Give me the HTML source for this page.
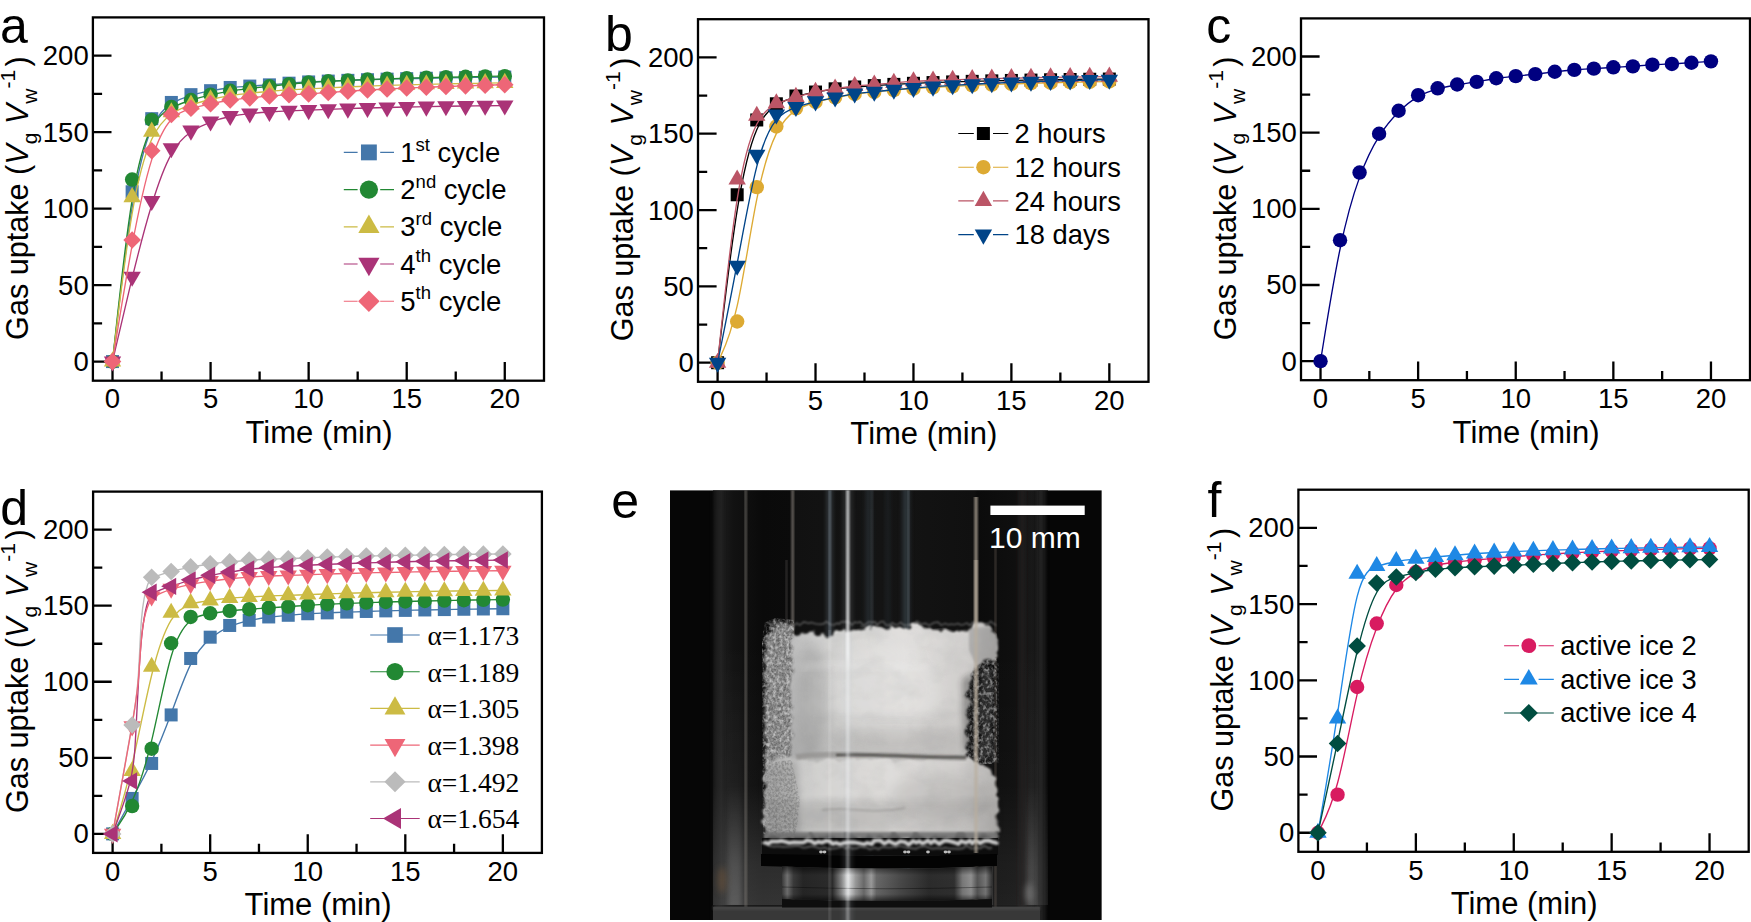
<!DOCTYPE html>
<html lang="en"><head><meta charset="utf-8"><title>Gas uptake kinetics</title>
<style>html,body{margin:0;padding:0;background:#fff}body{width:1751px;height:922px;overflow:hidden}svg{display:block}text{font-family:"Liberation Sans", Arial, Helvetica, sans-serif;fill:#000}</style></head><body>
<svg width="1751" height="922" viewBox="0 0 1751 922">
<rect width="1751" height="922" fill="#fff"/>
<text x="0" y="42.7" font-size="50">a</text>
<path d="M92.9,361.58h18.6M92.9,323.34h9.2M92.9,285.09h18.6M92.9,246.85h9.2M92.9,208.61h18.6M92.9,170.37h9.2M92.9,132.13h18.6M92.9,93.88h9.2M92.9,55.64h18.6M112.51,380.7v-18.6M161.55,380.7v-9.2M210.58,380.7v-18.6M259.61,380.7v-9.2M308.64,380.7v-18.6M357.68,380.7v-9.2M406.71,380.7v-18.6M455.74,380.7v-9.2M504.77,380.7v-18.6" stroke="#000" stroke-width="2.3" fill="none"/>
<rect x="92.9" y="17.4" width="451.1" height="363.3" fill="none" stroke="#000" stroke-width="2.3"/>
<text x="88.7" y="371.08" font-size="27.5" text-anchor="end">0</text>
<text x="88.7" y="294.59" font-size="27.5" text-anchor="end">50</text>
<text x="88.7" y="218.11" font-size="27.5" text-anchor="end">100</text>
<text x="88.7" y="141.63" font-size="27.5" text-anchor="end">150</text>
<text x="88.7" y="65.14" font-size="27.5" text-anchor="end">200</text>
<text x="112.51" y="408.4" font-size="27.5" text-anchor="middle">0</text>
<text x="210.58" y="408.4" font-size="27.5" text-anchor="middle">5</text>
<text x="308.64" y="408.4" font-size="27.5" text-anchor="middle">10</text>
<text x="406.71" y="408.4" font-size="27.5" text-anchor="middle">15</text>
<text x="504.77" y="408.4" font-size="27.5" text-anchor="middle">20</text>
<text x="319.05" y="443" font-size="31" text-anchor="middle">Time (min)</text>
<text transform="translate(27.7,198.05) rotate(-90)" font-size="30.6" text-anchor="middle">Gas uptake (<tspan font-style="italic">V</tspan><tspan font-size="21" dy="9">g</tspan><tspan dy="-9"> </tspan><tspan font-style="italic">V</tspan><tspan font-size="21" dy="9">w</tspan><tspan font-size="21" dy="-21.5">-1</tspan><tspan dy="12.5" dx="3.5">)</tspan></text>
<path d="M112.51,361.58C112.51,361.58 112.51,361.58 115.78,333.28C119.05,304.98 125.59,248.38 132.13,207.9C138.66,167.41 145.2,143.04 151.74,128.15C158.28,113.26 164.81,107.86 171.35,103.85C177.89,99.85 184.43,97.25 190.97,95.29C197.5,93.32 204.04,92 210.58,90.8C217.12,89.6 223.65,88.53 230.19,87.77C236.73,87 243.27,86.54 249.8,86.11C256.34,85.67 262.88,85.27 269.42,84.78C275.96,84.3 282.49,83.74 289.03,83.25C295.57,82.77 302.11,82.36 308.64,82.01C315.18,81.67 321.72,81.38 328.26,81.11C334.79,80.85 341.33,80.6 347.87,80.37C354.41,80.14 360.94,79.92 367.48,79.72C374.02,79.52 380.56,79.34 387.1,79.16C393.63,78.99 400.17,78.83 406.71,78.68C413.25,78.53 419.78,78.39 426.32,78.26C432.86,78.13 439.4,78 445.93,77.89C452.47,77.78 459.01,77.67 465.55,77.57C472.09,77.48 478.62,77.39 485.16,77.3C491.7,77.22 498.24,77.14 501.51,77.1C504.77,77.06 504.77,77.06 504.77,77.06" stroke="#4477AA" stroke-width="1.35" fill="none"/>
<rect x="106.01" y="355.08" width="13" height="13" fill="#4477AA"/><rect x="125.63" y="185.28" width="13" height="13" fill="#4477AA"/><rect x="145.24" y="112.17" width="13" height="13" fill="#4477AA"/><rect x="164.85" y="95.95" width="13" height="13" fill="#4477AA"/><rect x="184.47" y="88.15" width="13" height="13" fill="#4477AA"/><rect x="204.08" y="84.17" width="13" height="13" fill="#4477AA"/><rect x="223.69" y="80.96" width="13" height="13" fill="#4477AA"/><rect x="243.3" y="79.58" width="13" height="13" fill="#4477AA"/><rect x="262.92" y="78.36" width="13" height="13" fill="#4477AA"/><rect x="282.53" y="76.68" width="13" height="13" fill="#4477AA"/><rect x="302.14" y="75.45" width="13" height="13" fill="#4477AA"/><rect x="321.76" y="74.6" width="13" height="13" fill="#4477AA"/><rect x="341.37" y="73.85" width="13" height="13" fill="#4477AA"/><rect x="360.98" y="73.21" width="13" height="13" fill="#4477AA"/><rect x="380.6" y="72.65" width="13" height="13" fill="#4477AA"/><rect x="400.21" y="72.17" width="13" height="13" fill="#4477AA"/><rect x="419.82" y="71.75" width="13" height="13" fill="#4477AA"/><rect x="439.43" y="71.38" width="13" height="13" fill="#4477AA"/><rect x="459.05" y="71.07" width="13" height="13" fill="#4477AA"/><rect x="478.66" y="70.79" width="13" height="13" fill="#4477AA"/><rect x="498.27" y="70.56" width="13" height="13" fill="#4477AA"/>
<path d="M112.51,361.58C112.51,361.58 112.51,361.58 115.78,331.24C119.05,300.9 125.59,240.22 132.13,199.94C138.66,159.66 145.2,139.77 151.74,127.66C158.28,115.55 164.81,111.22 171.35,107.91C177.89,104.59 184.43,102.3 190.97,100.26C197.5,98.22 204.04,96.43 210.58,94.9C217.12,93.37 223.65,92.1 230.19,91.08C236.73,90.06 243.27,89.3 249.8,88.53C256.34,87.77 262.88,87 269.42,86.26C275.96,85.52 282.49,84.81 289.03,84.17C295.57,83.53 302.11,82.97 308.64,82.51C315.18,82.05 321.72,81.68 328.26,81.34C334.79,81 341.33,80.68 347.87,80.38C354.41,80.09 360.94,79.81 367.48,79.55C374.02,79.3 380.56,79.06 387.1,78.84C393.63,78.61 400.17,78.41 406.71,78.21C413.25,78.02 419.78,77.84 426.32,77.68C432.86,77.51 439.4,77.35 445.93,77.21C452.47,77.06 459.01,76.93 465.55,76.8C472.09,76.68 478.62,76.56 485.16,76.45C491.7,76.34 498.24,76.24 501.51,76.19C504.77,76.14 504.77,76.14 504.77,76.14" stroke="#228833" stroke-width="1.35" fill="none"/>
<circle cx="112.51" cy="361.58" r="7.2" fill="#228833"/><circle cx="132.13" cy="179.55" r="7.2" fill="#228833"/><circle cx="151.74" cy="119.89" r="7.2" fill="#228833"/><circle cx="171.35" cy="106.89" r="7.2" fill="#228833"/><circle cx="190.97" cy="100" r="7.2" fill="#228833"/><circle cx="210.58" cy="94.65" r="7.2" fill="#228833"/><circle cx="230.19" cy="90.82" r="7.2" fill="#228833"/><circle cx="249.8" cy="88.53" r="7.2" fill="#228833"/><circle cx="269.42" cy="86.24" r="7.2" fill="#228833"/><circle cx="289.03" cy="84.09" r="7.2" fill="#228833"/><circle cx="308.64" cy="82.41" r="7.2" fill="#228833"/><circle cx="328.26" cy="81.31" r="7.2" fill="#228833"/><circle cx="347.87" cy="80.36" r="7.2" fill="#228833"/><circle cx="367.48" cy="79.54" r="7.2" fill="#228833"/><circle cx="387.1" cy="78.82" r="7.2" fill="#228833"/><circle cx="406.71" cy="78.2" r="7.2" fill="#228833"/><circle cx="426.32" cy="77.66" r="7.2" fill="#228833"/><circle cx="445.93" cy="77.2" r="7.2" fill="#228833"/><circle cx="465.55" cy="76.79" r="7.2" fill="#228833"/><circle cx="485.16" cy="76.44" r="7.2" fill="#228833"/><circle cx="504.77" cy="76.14" r="7.2" fill="#228833"/>
<path d="M112.51,361.58C112.51,361.58 112.51,361.58 115.78,334.17C119.05,306.77 125.59,251.95 132.13,213.63C138.66,175.31 145.2,153.49 151.74,139.34C158.28,125.19 164.81,118.72 171.35,114.2C177.89,109.69 184.43,107.14 190.97,104.97C197.5,102.81 204.04,101.02 210.58,99.49C217.12,97.96 223.65,96.69 230.19,95.67C236.73,94.65 243.27,93.88 249.8,93.17C256.34,92.46 262.88,91.79 269.42,91.26C275.96,90.72 282.49,90.31 289.03,89.93C295.57,89.55 302.11,89.19 308.64,88.84C315.18,88.49 321.72,88.14 328.26,87.81C334.79,87.49 341.33,87.19 347.87,86.91C354.41,86.62 360.94,86.36 367.48,86.12C374.02,85.87 380.56,85.65 387.1,85.44C393.63,85.22 400.17,85.03 406.71,84.84C413.25,84.66 419.78,84.49 426.32,84.33C432.86,84.17 439.4,84.02 445.93,83.89C452.47,83.75 459.01,83.62 465.55,83.5C472.09,83.38 478.62,83.27 485.16,83.17C491.7,83.06 498.24,82.97 501.51,82.92C504.77,82.87 504.77,82.87 504.77,82.87" stroke="#CCBB44" stroke-width="1.35" fill="none"/>
<polygon points="112.51,351.53 103.81,366.6 121.21,366.6" fill="#CCBB44"/><polygon points="132.13,187.09 123.43,202.16 140.83,202.16" fill="#CCBB44"/><polygon points="151.74,121.62 143.04,136.69 160.44,136.69" fill="#CCBB44"/><polygon points="171.35,102.19 162.65,117.26 180.05,117.26" fill="#CCBB44"/><polygon points="190.97,94.55 182.27,109.61 199.67,109.61" fill="#CCBB44"/><polygon points="210.58,89.19 201.88,104.26 219.28,104.26" fill="#CCBB44"/><polygon points="230.19,85.37 221.49,100.44 238.89,100.44" fill="#CCBB44"/><polygon points="249.8,83.07 241.1,98.14 258.5,98.14" fill="#CCBB44"/><polygon points="269.42,81.09 260.72,96.15 278.12,96.15" fill="#CCBB44"/><polygon points="289.03,79.86 280.33,94.93 297.73,94.93" fill="#CCBB44"/><polygon points="308.64,78.79 299.94,93.86 317.34,93.86" fill="#CCBB44"/><polygon points="328.26,77.75 319.56,92.81 336.96,92.81" fill="#CCBB44"/><polygon points="347.87,76.84 339.17,91.91 356.57,91.91" fill="#CCBB44"/><polygon points="367.48,76.06 358.78,91.12 376.18,91.12" fill="#CCBB44"/><polygon points="387.1,75.38 378.4,90.44 395.8,90.44" fill="#CCBB44"/><polygon points="406.71,74.79 398.01,89.85 415.41,89.85" fill="#CCBB44"/><polygon points="426.32,74.27 417.62,89.34 435.02,89.34" fill="#CCBB44"/><polygon points="445.93,73.83 437.23,88.9 454.63,88.9" fill="#CCBB44"/><polygon points="465.55,73.45 456.85,88.52 474.25,88.52" fill="#CCBB44"/><polygon points="485.16,73.11 476.46,88.18 493.86,88.18" fill="#CCBB44"/><polygon points="504.77,72.82 496.07,87.89 513.47,87.89" fill="#CCBB44"/>
<path d="M112.51,361.58C112.51,361.58 112.51,361.58 115.78,347.43C119.05,333.28 125.59,304.98 132.13,278.21C138.66,251.44 145.2,226.2 151.74,204.79C158.28,183.37 164.81,165.78 171.35,154.05C177.89,142.32 184.43,136.46 190.97,132C197.5,127.54 204.04,124.48 210.58,122.06C217.12,119.63 223.65,117.85 230.19,116.52C236.73,115.2 243.27,114.33 249.8,113.64C256.34,112.95 262.88,112.44 269.42,112.01C275.96,111.58 282.49,111.22 289.03,110.91C295.57,110.61 302.11,110.35 308.64,110.09C315.18,109.83 321.72,109.56 328.26,109.31C334.79,109.06 341.33,108.83 347.87,108.61C354.41,108.4 360.94,108.2 367.48,108.01C374.02,107.82 380.56,107.65 387.1,107.48C393.63,107.32 400.17,107.17 406.71,107.03C413.25,106.89 419.78,106.76 426.32,106.63C432.86,106.51 439.4,106.4 445.93,106.29C452.47,106.19 459.01,106.09 465.55,105.99C472.09,105.9 478.62,105.82 485.16,105.74C491.7,105.66 498.24,105.58 501.51,105.55C504.77,105.51 504.77,105.51 504.77,105.51" stroke="#AA3377" stroke-width="1.35" fill="none"/>
<polygon points="112.51,371.62 103.81,356.56 121.21,356.56" fill="#AA3377"/><polygon points="132.13,286.73 123.43,271.66 140.83,271.66" fill="#AA3377"/><polygon points="151.74,211.01 143.04,195.94 160.44,195.94" fill="#AA3377"/><polygon points="171.35,158.23 162.65,143.17 180.05,143.17" fill="#AA3377"/><polygon points="190.97,140.64 182.27,125.57 199.67,125.57" fill="#AA3377"/><polygon points="210.58,131.46 201.88,116.4 219.28,116.4" fill="#AA3377"/><polygon points="230.19,126.11 221.49,111.04 238.89,111.04" fill="#AA3377"/><polygon points="249.8,123.51 241.1,108.44 258.5,108.44" fill="#AA3377"/><polygon points="269.42,121.98 260.72,106.91 278.12,106.91" fill="#AA3377"/><polygon points="289.03,120.91 280.33,105.84 297.73,105.84" fill="#AA3377"/><polygon points="308.64,120.14 299.94,105.08 317.34,105.08" fill="#AA3377"/><polygon points="328.26,119.34 319.56,104.27 336.96,104.27" fill="#AA3377"/><polygon points="347.87,118.64 339.17,103.58 356.57,103.58" fill="#AA3377"/><polygon points="367.48,118.04 358.78,102.97 376.18,102.97" fill="#AA3377"/><polygon points="387.1,117.52 378.4,102.45 395.8,102.45" fill="#AA3377"/><polygon points="406.71,117.06 398.01,102 415.41,102" fill="#AA3377"/><polygon points="426.32,116.67 417.62,101.6 435.02,101.6" fill="#AA3377"/><polygon points="445.93,116.33 437.23,101.26 454.63,101.26" fill="#AA3377"/><polygon points="465.55,116.03 456.85,100.97 474.25,100.97" fill="#AA3377"/><polygon points="485.16,115.78 476.46,100.71 493.86,100.71" fill="#AA3377"/><polygon points="504.77,115.56 496.07,100.49 513.47,100.49" fill="#AA3377"/>
<path d="M112.51,361.58C112.51,361.58 112.51,361.58 115.78,341.31C119.05,321.04 125.59,280.51 132.13,245.37C138.66,210.24 145.2,180.52 151.74,159.61C158.28,138.7 164.81,126.62 171.35,119.53C177.89,112.44 184.43,110.35 190.97,108.54C197.5,106.73 204.04,105.2 210.58,103.83C217.12,102.45 223.65,101.23 230.19,100.26C236.73,99.29 243.27,98.58 249.8,97.91C256.34,97.25 262.88,96.64 269.42,96.13C275.96,95.62 282.49,95.21 289.03,94.85C295.57,94.5 302.11,94.19 308.64,93.8C315.18,93.4 321.72,92.92 328.26,92.47C334.79,92.02 341.33,91.59 347.87,91.18C354.41,90.77 360.94,90.39 367.48,90.03C374.02,89.66 380.56,89.32 387.1,88.99C393.63,88.67 400.17,88.36 406.71,88.07C413.25,87.78 419.78,87.5 426.32,87.24C432.86,86.98 439.4,86.73 445.93,86.5C452.47,86.27 459.01,86.05 465.55,85.84C472.09,85.63 478.62,85.43 485.16,85.25C491.7,85.06 498.24,84.88 501.51,84.79C504.77,84.71 504.77,84.71 504.77,84.71" stroke="#EE6677" stroke-width="1.35" fill="none"/>
<polygon points="112.51,352.78 121.31,361.58 112.51,370.38 103.71,361.58" fill="#EE6677"/><polygon points="132.13,231.17 140.93,239.97 132.13,248.77 123.33,239.97" fill="#EE6677"/><polygon points="151.74,141.99 160.54,150.79 151.74,159.59 142.94,150.79" fill="#EE6677"/><polygon points="171.35,105.73 180.15,114.53 171.35,123.33 162.55,114.53" fill="#EE6677"/><polygon points="190.97,99.46 199.77,108.26 190.97,117.06 182.17,108.26" fill="#EE6677"/><polygon points="210.58,94.87 219.38,103.67 210.58,112.47 201.78,103.67" fill="#EE6677"/><polygon points="230.19,91.2 238.99,100 230.19,108.8 221.39,100" fill="#EE6677"/><polygon points="249.8,89.06 258.6,97.86 249.8,106.66 241,97.86" fill="#EE6677"/><polygon points="269.42,87.23 278.22,96.03 269.42,104.83 260.62,96.03" fill="#EE6677"/><polygon points="289.03,86 297.83,94.8 289.03,103.6 280.23,94.8" fill="#EE6677"/><polygon points="308.64,85.08 317.44,93.88 308.64,102.68 299.84,93.88" fill="#EE6677"/><polygon points="328.26,83.65 337.06,92.45 328.26,101.25 319.46,92.45" fill="#EE6677"/><polygon points="347.87,82.36 356.67,91.16 347.87,99.96 339.07,91.16" fill="#EE6677"/><polygon points="367.48,81.21 376.28,90.01 367.48,98.81 358.68,90.01" fill="#EE6677"/><polygon points="387.1,80.17 395.9,88.97 387.1,97.77 378.3,88.97" fill="#EE6677"/><polygon points="406.71,79.25 415.51,88.05 406.71,96.85 397.91,88.05" fill="#EE6677"/><polygon points="426.32,78.43 435.12,87.23 426.32,96.03 417.52,87.23" fill="#EE6677"/><polygon points="445.93,77.69 454.73,86.49 445.93,95.29 437.13,86.49" fill="#EE6677"/><polygon points="465.55,77.03 474.35,85.83 465.55,94.63 456.75,85.83" fill="#EE6677"/><polygon points="485.16,76.44 493.96,85.24 485.16,94.04 476.36,85.24" fill="#EE6677"/><polygon points="504.77,75.91 513.57,84.71 504.77,93.51 495.97,84.71" fill="#EE6677"/>
<path d="M343.8,152.4H357.6M380.2,152.4H394" stroke="#4477AA" stroke-width="1.15"/>
<rect x="360.97" y="144.47" width="15.86" height="15.86" fill="#4477AA"/>
<text x="400.3" y="162" font-size="27.5">1<tspan font-size="18.5" dy="-11.5">st</tspan><tspan dy="11.5"> cycle</tspan></text>
<path d="M343.8,189.6H357.6M380.2,189.6H394" stroke="#228833" stroke-width="1.15"/>
<circle cx="368.9" cy="189.6" r="9.14" fill="#228833"/>
<text x="400.3" y="199.2" font-size="27.5">2<tspan font-size="18.5" dy="-11.5">nd</tspan><tspan dy="11.5"> cycle</tspan></text>
<path d="M343.8,226.8H357.6M380.2,226.8H394" stroke="#CCBB44" stroke-width="1.15"/>
<polygon points="368.9,214.54 358.29,232.93 379.51,232.93" fill="#CCBB44"/>
<text x="400.3" y="236.4" font-size="27.5">3<tspan font-size="18.5" dy="-11.5">rd</tspan><tspan dy="11.5"> cycle</tspan></text>
<path d="M343.8,264H357.6M380.2,264H394" stroke="#AA3377" stroke-width="1.15"/>
<polygon points="368.9,276.26 358.29,257.87 379.51,257.87" fill="#AA3377"/>
<text x="400.3" y="273.6" font-size="27.5">4<tspan font-size="18.5" dy="-11.5">th</tspan><tspan dy="11.5"> cycle</tspan></text>
<path d="M343.8,301.2H357.6M380.2,301.2H394" stroke="#EE6677" stroke-width="1.15"/>
<polygon points="368.9,290.46 379.64,301.2 368.9,311.94 358.16,301.2" fill="#EE6677"/>
<text x="400.3" y="310.8" font-size="27.5">5<tspan font-size="18.5" dy="-11.5">th</tspan><tspan dy="11.5"> cycle</tspan></text>
<text x="604.9" y="51.2" font-size="50">b</text>
<path d="M698,362.72h18.6M698,324.55h9.2M698,286.38h18.6M698,248.21h9.2M698,210.04h18.6M698,171.87h9.2M698,133.71h18.6M698,95.54h9.2M698,57.37h18.6M717.59,381.8v-18.6M766.55,381.8v-9.2M815.52,381.8v-18.6M864.49,381.8v-9.2M913.46,381.8v-18.6M962.42,381.8v-9.2M1011.39,381.8v-18.6M1060.36,381.8v-9.2M1109.33,381.8v-18.6" stroke="#000" stroke-width="2.3" fill="none"/>
<rect x="698" y="19.2" width="450.5" height="362.6" fill="none" stroke="#000" stroke-width="2.3"/>
<text x="693.8" y="372.22" font-size="27.5" text-anchor="end">0</text>
<text x="693.8" y="295.88" font-size="27.5" text-anchor="end">50</text>
<text x="693.8" y="219.54" font-size="27.5" text-anchor="end">100</text>
<text x="693.8" y="143.21" font-size="27.5" text-anchor="end">150</text>
<text x="693.8" y="66.87" font-size="27.5" text-anchor="end">200</text>
<text x="717.59" y="409.5" font-size="27.5" text-anchor="middle">0</text>
<text x="815.52" y="409.5" font-size="27.5" text-anchor="middle">5</text>
<text x="913.46" y="409.5" font-size="27.5" text-anchor="middle">10</text>
<text x="1011.39" y="409.5" font-size="27.5" text-anchor="middle">15</text>
<text x="1109.33" y="409.5" font-size="27.5" text-anchor="middle">20</text>
<text x="923.85" y="444.1" font-size="31" text-anchor="middle">Time (min)</text>
<text transform="translate(632.8,199.5) rotate(-90)" font-size="30.6" text-anchor="middle">Gas uptake (<tspan font-style="italic">V</tspan><tspan font-size="21" dy="9">g</tspan><tspan dy="-9"> </tspan><tspan font-style="italic">V</tspan><tspan font-size="21" dy="9">w</tspan><tspan font-size="21" dy="-21.5">-1</tspan><tspan dy="12.5" dx="3.5">)</tspan></text>
<path d="M717.59,362.72C717.59,362.72 717.59,362.72 720.85,334.73C724.12,306.74 730.64,250.76 737.17,210.3C743.7,169.84 750.23,144.9 756.76,129.74C763.29,114.57 769.82,109.18 776.35,105.18C782.88,101.19 789.41,98.59 795.93,96.63C802.46,94.67 808.99,93.35 815.52,92.15C822.05,90.96 828.58,89.89 835.11,89.05C841.64,88.21 848.17,87.6 854.7,87.06C861.22,86.53 867.75,86.07 874.28,85.64C880.81,85.21 887.34,84.8 893.87,84.42C900.4,84.04 906.93,83.68 913.46,83.38C919.99,83.07 926.51,82.82 933.04,82.59C939.57,82.36 946.1,82.14 952.63,81.94C959.16,81.74 965.69,81.55 972.22,81.38C978.75,81.2 985.28,81.04 991.8,80.89C998.33,80.73 1004.86,80.59 1011.39,80.46C1017.92,80.33 1024.45,80.21 1030.98,80.09C1037.51,79.98 1044.04,79.87 1050.57,79.78C1057.09,79.68 1063.62,79.59 1070.15,79.5C1076.68,79.41 1083.21,79.33 1089.74,79.26C1096.27,79.19 1102.8,79.12 1106.06,79.08C1109.33,79.05 1109.33,79.05 1109.33,79.05" stroke="#000000" stroke-width="1.35" fill="none"/>
<rect x="711.09" y="356.22" width="13" height="13" fill="#000000"/><rect x="730.67" y="188.27" width="13" height="13" fill="#000000"/><rect x="750.26" y="113.46" width="13" height="13" fill="#000000"/><rect x="769.85" y="97.28" width="13" height="13" fill="#000000"/><rect x="789.43" y="89.49" width="13" height="13" fill="#000000"/><rect x="809.02" y="85.53" width="13" height="13" fill="#000000"/><rect x="828.61" y="82.32" width="13" height="13" fill="#000000"/><rect x="848.2" y="80.49" width="13" height="13" fill="#000000"/><rect x="867.78" y="79.11" width="13" height="13" fill="#000000"/><rect x="887.37" y="77.89" width="13" height="13" fill="#000000"/><rect x="906.96" y="76.82" width="13" height="13" fill="#000000"/><rect x="926.54" y="76.07" width="13" height="13" fill="#000000"/><rect x="946.13" y="75.43" width="13" height="13" fill="#000000"/><rect x="965.72" y="74.86" width="13" height="13" fill="#000000"/><rect x="985.3" y="74.38" width="13" height="13" fill="#000000"/><rect x="1004.89" y="73.95" width="13" height="13" fill="#000000"/><rect x="1024.48" y="73.59" width="13" height="13" fill="#000000"/><rect x="1044.07" y="73.27" width="13" height="13" fill="#000000"/><rect x="1063.65" y="72.99" width="13" height="13" fill="#000000"/><rect x="1083.24" y="72.75" width="13" height="13" fill="#000000"/><rect x="1102.83" y="72.55" width="13" height="13" fill="#000000"/>
<path d="M717.59,362.72C717.59,362.72 717.59,362.72 720.85,355.85C724.12,348.98 730.64,335.23 737.17,305.97C743.7,276.71 750.23,231.93 756.76,199.43C763.29,166.94 769.82,146.73 776.35,133.6C782.88,120.47 789.41,114.42 795.93,110.32C802.46,106.22 808.99,104.09 815.52,102.25C822.05,100.42 828.58,98.9 835.11,97.57C841.64,96.25 848.17,95.13 854.7,94.21C861.22,93.3 867.75,92.59 874.28,91.92C880.81,91.26 887.34,90.65 893.87,90.12C900.4,89.58 906.93,89.12 913.46,88.69C919.99,88.25 926.51,87.83 933.04,87.44C939.57,87.05 946.1,86.68 952.63,86.35C959.16,86.01 965.69,85.69 972.22,85.4C978.75,85.1 985.28,84.83 991.8,84.58C998.33,84.32 1004.86,84.09 1011.39,83.86C1017.92,83.64 1024.45,83.44 1030.98,83.25C1037.51,83.06 1044.04,82.88 1050.57,82.71C1057.09,82.55 1063.62,82.39 1070.15,82.25C1076.68,82.11 1083.21,81.97 1089.74,81.85C1096.27,81.72 1102.8,81.61 1106.06,81.55C1109.33,81.49 1109.33,81.49 1109.33,81.49" stroke="#DDAA33" stroke-width="1.35" fill="none"/>
<circle cx="717.59" cy="362.72" r="7.2" fill="#DDAA33"/><circle cx="737.17" cy="321.49" r="7.2" fill="#DDAA33"/><circle cx="756.76" cy="187.14" r="7.2" fill="#DDAA33"/><circle cx="776.35" cy="126.53" r="7.2" fill="#DDAA33"/><circle cx="795.93" cy="108.36" r="7.2" fill="#DDAA33"/><circle cx="815.52" cy="101.95" r="7.2" fill="#DDAA33"/><circle cx="835.11" cy="97.37" r="7.2" fill="#DDAA33"/><circle cx="854.7" cy="94.01" r="7.2" fill="#DDAA33"/><circle cx="874.28" cy="91.87" r="7.2" fill="#DDAA33"/><circle cx="893.87" cy="90.04" r="7.2" fill="#DDAA33"/><circle cx="913.46" cy="88.67" r="7.2" fill="#DDAA33"/><circle cx="933.04" cy="87.41" r="7.2" fill="#DDAA33"/><circle cx="952.63" cy="86.32" r="7.2" fill="#DDAA33"/><circle cx="972.22" cy="85.38" r="7.2" fill="#DDAA33"/><circle cx="991.8" cy="84.56" r="7.2" fill="#DDAA33"/><circle cx="1011.39" cy="83.85" r="7.2" fill="#DDAA33"/><circle cx="1030.98" cy="83.23" r="7.2" fill="#DDAA33"/><circle cx="1050.57" cy="82.7" r="7.2" fill="#DDAA33"/><circle cx="1070.15" cy="82.24" r="7.2" fill="#DDAA33"/><circle cx="1089.74" cy="81.84" r="7.2" fill="#DDAA33"/><circle cx="1109.33" cy="81.49" r="7.2" fill="#DDAA33"/>
<path d="M717.59,362.72C717.59,362.72 717.59,362.72 720.85,332.18C724.12,301.65 730.64,240.58 737.17,199.41C743.7,158.23 750.23,136.96 756.76,124.26C763.29,111.57 769.82,107.45 776.35,104.32C782.88,101.19 789.41,99.05 795.93,97.11C802.46,95.18 808.99,93.45 815.52,92.08C822.05,90.7 828.58,89.68 835.11,88.74C841.64,87.8 848.17,86.94 854.7,86.25C861.22,85.56 867.75,85.05 874.28,84.52C880.81,83.98 887.34,83.42 893.87,82.89C900.4,82.36 906.93,81.85 913.46,81.45C919.99,81.06 926.51,80.79 933.04,80.53C939.57,80.27 946.1,80.03 952.63,79.81C959.16,79.58 965.69,79.38 972.22,79.18C978.75,78.99 985.28,78.81 991.8,78.64C998.33,78.47 1004.86,78.32 1011.39,78.17C1017.92,78.03 1024.45,77.89 1030.98,77.76C1037.51,77.64 1044.04,77.52 1050.57,77.41C1057.09,77.3 1063.62,77.2 1070.15,77.11C1076.68,77.01 1083.21,76.92 1089.74,76.84C1096.27,76.76 1102.8,76.68 1106.06,76.64C1109.33,76.61 1109.33,76.61 1109.33,76.61" stroke="#BB5566" stroke-width="1.35" fill="none"/>
<polygon points="717.59,352.67 708.89,367.74 726.29,367.74" fill="#BB5566"/><polygon points="737.17,169.46 728.47,184.53 745.87,184.53" fill="#BB5566"/><polygon points="756.76,105.64 748.06,120.71 765.46,120.71" fill="#BB5566"/><polygon points="776.35,93.28 767.65,108.35 785.05,108.35" fill="#BB5566"/><polygon points="795.93,86.87 787.23,101.93 804.63,101.93" fill="#BB5566"/><polygon points="815.52,81.67 806.82,96.74 824.22,96.74" fill="#BB5566"/><polygon points="835.11,78.62 826.41,93.69 843.81,93.69" fill="#BB5566"/><polygon points="854.7,76.03 846,91.09 863.4,91.09" fill="#BB5566"/><polygon points="874.28,74.5 865.58,89.57 882.98,89.57" fill="#BB5566"/><polygon points="893.87,72.82 885.17,87.89 902.57,87.89" fill="#BB5566"/><polygon points="913.46,71.29 904.76,86.36 922.16,86.36" fill="#BB5566"/><polygon points="933.04,70.46 924.34,85.53 941.74,85.53" fill="#BB5566"/><polygon points="952.63,69.75 943.93,84.81 961.33,84.81" fill="#BB5566"/><polygon points="972.22,69.12 963.52,84.19 980.92,84.19" fill="#BB5566"/><polygon points="991.8,68.58 983.1,83.65 1000.5,83.65" fill="#BB5566"/><polygon points="1011.39,68.12 1002.69,83.18 1020.09,83.18" fill="#BB5566"/><polygon points="1030.98,67.71 1022.28,82.78 1039.68,82.78" fill="#BB5566"/><polygon points="1050.57,67.36 1041.87,82.43 1059.27,82.43" fill="#BB5566"/><polygon points="1070.15,67.05 1061.45,82.12 1078.85,82.12" fill="#BB5566"/><polygon points="1089.74,66.79 1081.04,81.86 1098.44,81.86" fill="#BB5566"/><polygon points="1109.33,66.56 1100.63,81.63 1118.03,81.63" fill="#BB5566"/>
<path d="M717.59,362.72C717.59,362.72 717.59,362.72 720.85,346.56C724.12,330.4 730.64,298.08 737.17,263.43C743.7,228.77 750.23,191.77 756.76,166.56C763.29,141.34 769.82,127.9 776.35,119.94C782.88,111.97 789.41,109.48 795.93,107.29C802.46,105.1 808.99,103.22 815.52,101.64C822.05,100.07 828.58,98.79 835.11,97.5C841.64,96.2 848.17,94.88 854.7,93.91C861.22,92.94 867.75,92.33 874.28,91.69C880.81,91.06 887.34,90.4 893.87,89.79C900.4,89.18 906.93,88.62 913.46,88.09C919.99,87.57 926.51,87.08 933.04,86.62C939.57,86.16 946.1,85.74 952.63,85.34C959.16,84.94 965.69,84.57 972.22,84.23C978.75,83.89 985.28,83.57 991.8,83.27C998.33,82.97 1004.86,82.7 1011.39,82.44C1017.92,82.18 1024.45,81.94 1030.98,81.71C1037.51,81.49 1044.04,81.28 1050.57,81.09C1057.09,80.89 1063.62,80.71 1070.15,80.55C1076.68,80.38 1083.21,80.22 1089.74,80.08C1096.27,79.93 1102.8,79.79 1106.06,79.73C1109.33,79.66 1109.33,79.66 1109.33,79.66" stroke="#004488" stroke-width="1.35" fill="none"/>
<polygon points="717.59,372.76 708.89,357.69 726.29,357.69" fill="#004488"/><polygon points="737.17,275.81 728.47,260.75 745.87,260.75" fill="#004488"/><polygon points="756.76,164.82 748.06,149.75 765.46,149.75" fill="#004488"/><polygon points="776.35,124.51 767.65,109.45 785.05,109.45" fill="#004488"/><polygon points="795.93,117.03 787.23,101.96 804.63,101.96" fill="#004488"/><polygon points="815.52,111.38 806.82,96.32 824.22,96.32" fill="#004488"/><polygon points="835.11,107.57 826.41,92.5 843.81,92.5" fill="#004488"/><polygon points="854.7,103.6 846,88.53 863.4,88.53" fill="#004488"/><polygon points="874.28,101.77 865.58,86.7 882.98,86.7" fill="#004488"/><polygon points="893.87,99.78 885.17,84.71 902.57,84.71" fill="#004488"/><polygon points="913.46,98.1 904.76,83.03 922.16,83.03" fill="#004488"/><polygon points="933.04,96.63 924.34,81.56 941.74,81.56" fill="#004488"/><polygon points="952.63,95.36 943.93,80.29 961.33,80.29" fill="#004488"/><polygon points="972.22,94.25 963.52,79.18 980.92,79.18" fill="#004488"/><polygon points="991.8,93.29 983.1,78.23 1000.5,78.23" fill="#004488"/><polygon points="1011.39,92.46 1002.69,77.4 1020.09,77.4" fill="#004488"/><polygon points="1030.98,91.74 1022.28,76.68 1039.68,76.68" fill="#004488"/><polygon points="1050.57,91.12 1041.87,76.05 1059.27,76.05" fill="#004488"/><polygon points="1070.15,90.58 1061.45,75.51 1078.85,75.51" fill="#004488"/><polygon points="1089.74,90.11 1081.04,75.04 1098.44,75.04" fill="#004488"/><polygon points="1109.33,89.7 1100.63,74.64 1118.03,74.64" fill="#004488"/>
<path d="M958.3,133.5H973.8M993,133.5H1008.3" stroke="#000000" stroke-width="1.15"/>
<rect x="976.9" y="127" width="13" height="13" fill="#000000"/>
<text x="1014.6" y="143.1" font-size="27.3">2 hours</text>
<path d="M958.3,167.2H973.8M993,167.2H1008.3" stroke="#DDAA33" stroke-width="1.15"/>
<circle cx="983.4" cy="167.2" r="7.2" fill="#DDAA33"/>
<text x="1014.6" y="176.8" font-size="27.3">12 hours</text>
<path d="M958.3,200.9H973.8M993,200.9H1008.3" stroke="#BB5566" stroke-width="1.15"/>
<polygon points="983.4,190.85 974.7,205.92 992.1,205.92" fill="#BB5566"/>
<text x="1014.6" y="210.5" font-size="27.3">24 hours</text>
<path d="M958.3,234.6H973.8M993,234.6H1008.3" stroke="#004488" stroke-width="1.15"/>
<polygon points="983.4,244.65 974.7,229.58 992.1,229.58" fill="#004488"/>
<text x="1014.6" y="244.2" font-size="27.3">18 days</text>
<text x="1206.2" y="42.9" font-size="50">c</text>
<path d="M1301,361.16h18.6M1301,323.07h9.2M1301,284.99h18.6M1301,246.91h9.2M1301,208.82h18.6M1301,170.74h9.2M1301,132.65h18.6M1301,94.57h9.2M1301,56.48h18.6M1320.52,380.2v-18.6M1369.33,380.2v-9.2M1418.13,380.2v-18.6M1466.93,380.2v-9.2M1515.74,380.2v-18.6M1564.54,380.2v-9.2M1613.35,380.2v-18.6M1662.15,380.2v-9.2M1710.96,380.2v-18.6" stroke="#000" stroke-width="2.3" fill="none"/>
<rect x="1301" y="18.4" width="449" height="361.8" fill="none" stroke="#000" stroke-width="2.3"/>
<text x="1296.8" y="370.66" font-size="27.5" text-anchor="end">0</text>
<text x="1296.8" y="294.49" font-size="27.5" text-anchor="end">50</text>
<text x="1296.8" y="218.32" font-size="27.5" text-anchor="end">100</text>
<text x="1296.8" y="142.15" font-size="27.5" text-anchor="end">150</text>
<text x="1296.8" y="65.98" font-size="27.5" text-anchor="end">200</text>
<text x="1320.52" y="407.9" font-size="27.5" text-anchor="middle">0</text>
<text x="1418.13" y="407.9" font-size="27.5" text-anchor="middle">5</text>
<text x="1515.74" y="407.9" font-size="27.5" text-anchor="middle">10</text>
<text x="1613.35" y="407.9" font-size="27.5" text-anchor="middle">15</text>
<text x="1710.96" y="407.9" font-size="27.5" text-anchor="middle">20</text>
<text x="1526.1" y="442.5" font-size="31" text-anchor="middle">Time (min)</text>
<text transform="translate(1235.8,198.3) rotate(-90)" font-size="30.6" text-anchor="middle">Gas uptake (<tspan font-style="italic">V</tspan><tspan font-size="21" dy="9">g</tspan><tspan dy="-9"> </tspan><tspan font-style="italic">V</tspan><tspan font-size="21" dy="9">w</tspan><tspan font-size="21" dy="-21.5">-1</tspan><tspan dy="12.5" dx="3.5">)</tspan></text>
<path d="M1320.52,361.16C1320.52,361.16 1320.52,361.16 1323.78,341C1327.03,320.84 1333.54,280.52 1340.04,249.09C1346.55,217.66 1353.06,195.11 1359.57,177.36C1366.07,159.62 1372.58,146.67 1379.09,136.36C1385.59,126.05 1392.1,118.38 1398.61,111.96C1405.12,105.54 1411.62,100.36 1418.13,96.62C1424.64,92.89 1431.14,90.61 1437.65,88.83C1444.16,87.05 1450.67,85.78 1457.17,84.72C1463.68,83.65 1470.19,82.79 1476.7,81.75C1483.2,80.71 1489.71,79.49 1496.22,78.52C1502.72,77.56 1509.23,76.85 1515.74,76.16C1522.25,75.48 1528.75,74.82 1535.26,74.08C1541.77,73.34 1548.28,72.53 1554.78,71.82C1561.29,71.11 1567.8,70.5 1574.3,69.99C1580.81,69.48 1587.32,69.08 1593.83,68.65C1600.33,68.21 1606.84,67.76 1613.35,67.38C1619.86,67 1626.36,66.69 1632.87,66.26C1639.38,65.83 1645.88,65.27 1652.39,64.86C1658.9,64.46 1665.41,64.2 1671.91,63.87C1678.42,63.54 1684.93,63.14 1691.43,62.7C1697.94,62.27 1704.45,61.82 1707.7,61.59C1710.96,61.36 1710.96,61.36 1710.96,61.36" stroke="#000080" stroke-width="1.35" fill="none"/>
<circle cx="1320.52" cy="361.16" r="7.2" fill="#000080"/><circle cx="1340.04" cy="240.2" r="7.2" fill="#000080"/><circle cx="1359.57" cy="172.56" r="7.2" fill="#000080"/><circle cx="1379.09" cy="133.72" r="7.2" fill="#000080"/><circle cx="1398.61" cy="110.72" r="7.2" fill="#000080"/><circle cx="1418.13" cy="95.18" r="7.2" fill="#000080"/><circle cx="1437.65" cy="88.32" r="7.2" fill="#000080"/><circle cx="1457.17" cy="84.51" r="7.2" fill="#000080"/><circle cx="1476.7" cy="81.92" r="7.2" fill="#000080"/><circle cx="1496.22" cy="78.27" r="7.2" fill="#000080"/><circle cx="1515.74" cy="76.14" r="7.2" fill="#000080"/><circle cx="1535.26" cy="74.16" r="7.2" fill="#000080"/><circle cx="1554.78" cy="71.72" r="7.2" fill="#000080"/><circle cx="1574.3" cy="69.89" r="7.2" fill="#000080"/><circle cx="1593.83" cy="68.67" r="7.2" fill="#000080"/><circle cx="1613.35" cy="67.3" r="7.2" fill="#000080"/><circle cx="1632.87" cy="66.39" r="7.2" fill="#000080"/><circle cx="1652.39" cy="64.71" r="7.2" fill="#000080"/><circle cx="1671.91" cy="63.95" r="7.2" fill="#000080"/><circle cx="1691.43" cy="62.73" r="7.2" fill="#000080"/><circle cx="1710.96" cy="61.36" r="7.2" fill="#000080"/>
<text x="0.2" y="525.1" font-size="50">d</text>
<path d="M93.1,833.88h18.6M93.1,795.85h9.2M93.1,757.82h18.6M93.1,719.79h9.2M93.1,681.76h18.6M93.1,643.73h9.2M93.1,605.69h18.6M93.1,567.66h9.2M93.1,529.63h18.6M112.61,852.9v-18.6M161.4,852.9v-9.2M210.18,852.9v-18.6M258.96,852.9v-9.2M307.74,852.9v-18.6M356.53,852.9v-9.2M405.31,852.9v-18.6M454.09,852.9v-9.2M502.87,852.9v-18.6" stroke="#000" stroke-width="2.3" fill="none"/>
<rect x="93.1" y="491.6" width="448.8" height="361.3" fill="none" stroke="#000" stroke-width="2.3"/>
<text x="88.9" y="843.38" font-size="27.5" text-anchor="end">0</text>
<text x="88.9" y="767.32" font-size="27.5" text-anchor="end">50</text>
<text x="88.9" y="691.26" font-size="27.5" text-anchor="end">100</text>
<text x="88.9" y="615.19" font-size="27.5" text-anchor="end">150</text>
<text x="88.9" y="539.13" font-size="27.5" text-anchor="end">200</text>
<text x="112.61" y="880.6" font-size="27.5" text-anchor="middle">0</text>
<text x="210.18" y="880.6" font-size="27.5" text-anchor="middle">5</text>
<text x="307.74" y="880.6" font-size="27.5" text-anchor="middle">10</text>
<text x="405.31" y="880.6" font-size="27.5" text-anchor="middle">15</text>
<text x="502.87" y="880.6" font-size="27.5" text-anchor="middle">20</text>
<text x="318.1" y="915.2" font-size="31" text-anchor="middle">Time (min)</text>
<text transform="translate(27.9,671.25) rotate(-90)" font-size="30.6" text-anchor="middle">Gas uptake (<tspan font-style="italic">V</tspan><tspan font-size="21" dy="9">g</tspan><tspan dy="-9"> </tspan><tspan font-style="italic">V</tspan><tspan font-size="21" dy="9">w</tspan><tspan font-size="21" dy="-21.5">-1</tspan><tspan dy="12.5" dx="3.5">)</tspan></text>
<path d="M112.61,833.88C112.61,833.88 112.61,833.88 115.87,827.98C119.12,822.07 125.62,810.25 132.13,798.51C138.63,786.78 145.13,775.11 151.64,761.19C158.14,747.27 164.65,731.1 171.15,713.6C177.66,696.11 184.16,677.3 190.67,664.34C197.17,651.38 203.67,644.28 210.18,638.78C216.68,633.28 223.19,629.38 229.69,626.56C236.2,623.75 242.7,622.02 249.2,620.6C255.71,619.18 262.21,618.07 268.72,617.23C275.22,616.39 281.73,615.84 288.23,615.3C294.73,614.77 301.24,614.26 307.74,613.86C314.25,613.46 320.75,613.17 327.26,612.9C333.76,612.62 340.27,612.37 346.77,612.13C353.27,611.9 359.78,611.68 366.28,611.47C372.79,611.27 379.29,611.07 385.8,610.9C392.3,610.72 398.8,610.55 405.31,610.4C411.81,610.24 418.32,610.1 424.82,609.97C431.33,609.83 437.83,609.71 444.33,609.59C450.84,609.48 457.34,609.37 463.85,609.27C470.35,609.17 476.86,609.07 483.36,608.99C489.87,608.9 496.37,608.82 499.62,608.78C502.87,608.74 502.87,608.74 502.87,608.74" stroke="#4477AA" stroke-width="1.35" fill="none"/>
<rect x="106.11" y="827.38" width="13" height="13" fill="#4477AA"/><rect x="125.63" y="791.94" width="13" height="13" fill="#4477AA"/><rect x="145.14" y="756.95" width="13" height="13" fill="#4477AA"/><rect x="164.65" y="708.42" width="13" height="13" fill="#4477AA"/><rect x="184.17" y="651.98" width="13" height="13" fill="#4477AA"/><rect x="203.68" y="630.68" width="13" height="13" fill="#4477AA"/><rect x="223.19" y="618.97" width="13" height="13" fill="#4477AA"/><rect x="242.7" y="613.8" width="13" height="13" fill="#4477AA"/><rect x="262.22" y="610.45" width="13" height="13" fill="#4477AA"/><rect x="281.73" y="608.78" width="13" height="13" fill="#4477AA"/><rect x="301.24" y="607.26" width="13" height="13" fill="#4477AA"/><rect x="320.76" y="606.38" width="13" height="13" fill="#4477AA"/><rect x="340.27" y="605.62" width="13" height="13" fill="#4477AA"/><rect x="359.78" y="604.96" width="13" height="13" fill="#4477AA"/><rect x="379.3" y="604.38" width="13" height="13" fill="#4477AA"/><rect x="398.81" y="603.89" width="13" height="13" fill="#4477AA"/><rect x="418.32" y="603.46" width="13" height="13" fill="#4477AA"/><rect x="437.83" y="603.08" width="13" height="13" fill="#4477AA"/><rect x="457.35" y="602.76" width="13" height="13" fill="#4477AA"/><rect x="476.86" y="602.48" width="13" height="13" fill="#4477AA"/><rect x="496.37" y="602.24" width="13" height="13" fill="#4477AA"/>
<path d="M112.61,833.88C112.61,833.88 112.61,833.88 115.87,829.24C119.12,824.6 125.62,815.32 132.13,801.13C138.63,786.93 145.13,767.81 151.64,740.68C158.14,713.55 164.65,678.41 171.15,656.45C177.66,634.5 184.16,625.72 190.67,620.73C197.17,615.74 203.67,614.52 210.18,613.5C216.68,612.49 223.19,611.68 229.69,610.99C236.2,610.31 242.7,609.75 249.2,609.24C255.71,608.74 262.21,608.28 268.72,607.85C275.22,607.42 281.73,607.01 288.23,606.58C294.73,606.15 301.24,605.69 307.74,605.3C314.25,604.91 320.75,604.58 327.26,604.27C333.76,603.97 340.27,603.68 346.77,603.42C353.27,603.15 359.78,602.9 366.28,602.67C372.79,602.44 379.29,602.23 385.8,602.03C392.3,601.83 398.8,601.65 405.31,601.47C411.81,601.3 418.32,601.14 424.82,600.99C431.33,600.84 437.83,600.7 444.33,600.57C450.84,600.44 457.34,600.32 463.85,600.2C470.35,600.09 476.86,599.99 483.36,599.89C489.87,599.79 496.37,599.7 499.62,599.66C502.87,599.61 502.87,599.61 502.87,599.61" stroke="#228833" stroke-width="1.35" fill="none"/>
<circle cx="112.61" cy="833.88" r="7.2" fill="#228833"/><circle cx="132.13" cy="806.05" r="7.2" fill="#228833"/><circle cx="151.64" cy="748.69" r="7.2" fill="#228833"/><circle cx="171.15" cy="643.27" r="7.2" fill="#228833"/><circle cx="190.67" cy="616.95" r="7.2" fill="#228833"/><circle cx="210.18" cy="613.3" r="7.2" fill="#228833"/><circle cx="229.69" cy="610.87" r="7.2" fill="#228833"/><circle cx="249.2" cy="609.19" r="7.2" fill="#228833"/><circle cx="268.72" cy="607.82" r="7.2" fill="#228833"/><circle cx="288.23" cy="606.61" r="7.2" fill="#228833"/><circle cx="307.74" cy="605.24" r="7.2" fill="#228833"/><circle cx="327.26" cy="604.25" r="7.2" fill="#228833"/><circle cx="346.77" cy="603.4" r="7.2" fill="#228833"/><circle cx="366.28" cy="602.66" r="7.2" fill="#228833"/><circle cx="385.8" cy="602.02" r="7.2" fill="#228833"/><circle cx="405.31" cy="601.46" r="7.2" fill="#228833"/><circle cx="424.82" cy="600.98" r="7.2" fill="#228833"/><circle cx="444.33" cy="600.56" r="7.2" fill="#228833"/><circle cx="463.85" cy="600.2" r="7.2" fill="#228833"/><circle cx="483.36" cy="599.88" r="7.2" fill="#228833"/><circle cx="502.87" cy="599.61" r="7.2" fill="#228833"/>
<path d="M112.61,833.88C112.61,833.88 112.61,833.88 115.87,823.41C119.12,812.94 125.62,792 132.13,764.16C138.63,736.32 145.13,701.59 151.64,675.22C158.14,648.85 164.65,630.85 171.15,620.22C177.66,609.6 184.16,606.35 190.67,604.3C197.17,602.25 203.67,601.38 210.18,600.52C216.68,599.66 223.19,598.8 229.69,598.22C236.2,597.63 242.7,597.33 249.2,597C255.71,596.67 262.21,596.31 268.72,596.03C275.22,595.76 281.73,595.55 288.23,595.32C294.73,595.1 301.24,594.84 307.74,594.6C314.25,594.35 320.75,594.11 327.26,593.89C333.76,593.66 340.27,593.45 346.77,593.26C353.27,593.07 359.78,592.89 366.28,592.72C372.79,592.55 379.29,592.39 385.8,592.25C392.3,592.1 398.8,591.97 405.31,591.84C411.81,591.71 418.32,591.6 424.82,591.49C431.33,591.38 437.83,591.28 444.33,591.18C450.84,591.09 457.34,591 463.85,590.92C470.35,590.83 476.86,590.76 483.36,590.69C489.87,590.61 496.37,590.55 499.62,590.52C502.87,590.48 502.87,590.48 502.87,590.48" stroke="#CCBB44" stroke-width="1.35" fill="none"/>
<polygon points="112.61,823.84 103.91,838.91 121.31,838.91" fill="#CCBB44"/><polygon points="132.13,761.01 123.43,776.08 140.83,776.08" fill="#CCBB44"/><polygon points="151.64,656.8 142.94,671.87 160.34,671.87" fill="#CCBB44"/><polygon points="171.15,602.8 162.45,617.87 179.85,617.87" fill="#CCBB44"/><polygon points="190.67,593.06 181.97,608.13 199.37,608.13" fill="#CCBB44"/><polygon points="210.18,590.48 201.48,605.55 218.88,605.55" fill="#CCBB44"/><polygon points="229.69,587.89 220.99,602.96 238.39,602.96" fill="#CCBB44"/><polygon points="249.2,586.98 240.5,602.05 257.9,602.05" fill="#CCBB44"/><polygon points="268.72,585.91 260.02,600.98 277.42,600.98" fill="#CCBB44"/><polygon points="288.23,585.3 279.53,600.37 296.93,600.37" fill="#CCBB44"/><polygon points="307.74,584.54 299.04,599.61 316.44,599.61" fill="#CCBB44"/><polygon points="327.26,583.82 318.56,598.89 335.96,598.89" fill="#CCBB44"/><polygon points="346.77,583.2 338.07,598.27 355.47,598.27" fill="#CCBB44"/><polygon points="366.28,582.66 357.58,597.73 374.98,597.73" fill="#CCBB44"/><polygon points="385.8,582.19 377.1,597.26 394.5,597.26" fill="#CCBB44"/><polygon points="405.31,581.79 396.61,596.85 414.01,596.85" fill="#CCBB44"/><polygon points="424.82,581.43 416.12,596.5 433.52,596.5" fill="#CCBB44"/><polygon points="444.33,581.13 435.63,596.2 453.03,596.2" fill="#CCBB44"/><polygon points="463.85,580.86 455.15,595.93 472.55,595.93" fill="#CCBB44"/><polygon points="483.36,580.64 474.66,595.7 492.06,595.7" fill="#CCBB44"/><polygon points="502.87,580.44 494.17,595.5 511.57,595.5" fill="#CCBB44"/>
<path d="M112.61,833.88C112.61,833.88 112.61,833.88 115.87,825.06C119.12,816.24 125.62,798.59 129.36,784.65C133.1,770.7 134.08,760.46 134.89,748.49C135.7,736.52 136.35,722.83 137,709.39C137.65,695.96 138.31,682.77 139.12,669.59C139.93,656.4 140.91,643.22 142.21,632.06C143.51,620.91 145.13,611.78 146.76,605.49C148.39,599.2 150.01,595.76 154.08,593.04C158.14,590.33 164.65,588.35 171.15,586.27C177.66,584.19 184.16,582.01 190.67,580.16C197.17,578.31 203.67,576.79 210.18,575.5C216.68,574.2 223.19,573.14 229.69,572.1C236.2,571.06 242.7,570.05 249.2,569.29C255.71,568.53 262.21,568.02 268.72,567.54C275.22,567.05 281.73,566.6 288.23,566.22C294.73,565.84 301.24,565.53 307.74,565.23C314.25,564.93 320.75,564.63 327.26,564.34C333.76,564.06 340.27,563.8 346.77,563.56C353.27,563.31 359.78,563.08 366.28,562.87C372.79,562.66 379.29,562.46 385.8,562.28C392.3,562.1 398.8,561.93 405.31,561.77C411.81,561.61 418.32,561.46 424.82,561.32C431.33,561.19 437.83,561.06 444.33,560.94C450.84,560.82 457.34,560.71 463.85,560.6C470.35,560.5 476.86,560.4 483.36,560.31C489.87,560.22 496.37,560.14 499.62,560.1C502.87,560.06 502.87,560.06 502.87,560.06" stroke="#AA3377" stroke-width="1.35" fill="none"/>
<path d="M112.61,833.88C112.61,833.88 112.61,833.88 115.87,815.73C119.12,797.58 125.62,761.27 129.52,738.96C133.43,716.65 134.73,708.33 135.77,700.62C136.81,692.91 137.59,685.81 138.24,676.69C138.89,667.56 139.41,656.4 139.9,646.26C140.39,636.12 140.84,626.99 141.49,619.13C142.14,611.27 142.99,604.68 144.06,598.85C145.13,593.02 146.44,587.95 147.74,584.47C149.04,581 150.34,579.12 154.24,577.22C158.14,575.32 164.65,573.39 171.15,571.67C177.66,569.95 184.16,568.42 190.67,567.16C197.17,565.89 203.67,564.87 210.18,564.04C216.68,563.2 223.19,562.54 229.69,561.91C236.2,561.27 242.7,560.67 249.2,560.21C255.71,559.75 262.21,559.45 268.72,559.22C275.22,558.99 281.73,558.84 288.23,558.61C294.73,558.38 301.24,558.08 307.74,557.82C314.25,557.55 320.75,557.33 327.26,557.12C333.76,556.92 340.27,556.72 346.77,556.54C353.27,556.37 359.78,556.2 366.28,556.04C372.79,555.89 379.29,555.74 385.8,555.61C392.3,555.47 398.8,555.35 405.31,555.23C411.81,555.11 418.32,555 424.82,554.9C431.33,554.8 437.83,554.71 444.33,554.62C450.84,554.53 457.34,554.45 463.85,554.37C470.35,554.3 476.86,554.23 483.36,554.16C489.87,554.09 496.37,554.03 499.62,554C502.87,553.97 502.87,553.97 502.87,553.97" stroke="#BBBBBB" stroke-width="1.35" fill="none"/>
<path d="M112.61,833.88C112.61,833.88 112.61,833.88 115.87,815.96C119.12,798.03 125.62,762.18 129.52,739.87C133.43,717.56 134.73,708.79 135.8,701.1C136.87,693.42 137.72,686.83 138.44,678.72C139.15,670.6 139.74,660.97 140.29,652.85C140.84,644.74 141.36,638.15 142.01,632.57C142.66,626.99 143.44,622.43 144.32,618.37C145.2,614.32 146.18,610.77 147.41,607.22C148.65,603.67 150.14,600.12 154.14,597.05C158.14,593.98 164.65,591.39 171.15,589.34C177.66,587.29 184.16,585.77 190.67,584.45C197.17,583.13 203.67,582.01 210.18,581.08C216.68,580.14 223.19,579.38 229.69,578.72C236.2,578.06 242.7,577.5 249.2,577.07C255.71,576.64 262.21,576.33 268.72,576.08C275.22,575.83 281.73,575.62 288.23,575.42C294.73,575.22 301.24,575.02 307.74,574.79C314.25,574.57 320.75,574.33 327.26,574.11C333.76,573.89 340.27,573.68 346.77,573.48C353.27,573.29 359.78,573.11 366.28,572.94C372.79,572.77 379.29,572.62 385.8,572.47C392.3,572.33 398.8,572.19 405.31,572.06C411.81,571.94 418.32,571.82 424.82,571.71C431.33,571.6 437.83,571.5 444.33,571.41C450.84,571.31 457.34,571.22 463.85,571.14C470.35,571.06 476.86,570.98 483.36,570.91C489.87,570.84 496.37,570.77 499.62,570.74C502.87,570.71 502.87,570.71 502.87,570.71" stroke="#EE6677" stroke-width="1.35" fill="none"/>
<polygon points="112.61,843.93 103.91,828.86 121.31,828.86" fill="#EE6677"/><polygon points="132.13,736.38 123.43,721.31 140.83,721.31" fill="#EE6677"/><polygon points="151.64,606.61 142.94,591.54 160.34,591.54" fill="#EE6677"/><polygon points="171.15,598.85 162.45,583.79 179.85,583.79" fill="#EE6677"/><polygon points="190.67,594.29 181.97,579.22 199.37,579.22" fill="#EE6677"/><polygon points="210.18,590.94 201.48,575.88 218.88,575.88" fill="#EE6677"/><polygon points="229.69,588.66 220.99,573.59 238.39,573.59" fill="#EE6677"/><polygon points="249.2,586.99 240.5,571.92 257.9,571.92" fill="#EE6677"/><polygon points="268.72,586.08 260.02,571.01 277.42,571.01" fill="#EE6677"/><polygon points="288.23,585.47 279.53,570.4 296.93,570.4" fill="#EE6677"/><polygon points="307.74,584.86 299.04,569.79 316.44,569.79" fill="#EE6677"/><polygon points="327.26,584.14 318.56,569.07 335.96,569.07" fill="#EE6677"/><polygon points="346.77,583.52 338.07,568.45 355.47,568.45" fill="#EE6677"/><polygon points="366.28,582.98 357.58,567.91 374.98,567.91" fill="#EE6677"/><polygon points="385.8,582.51 377.1,567.44 394.5,567.44" fill="#EE6677"/><polygon points="405.31,582.1 396.61,567.03 414.01,567.03" fill="#EE6677"/><polygon points="424.82,581.75 416.12,566.68 433.52,566.68" fill="#EE6677"/><polygon points="444.33,581.44 435.63,566.38 453.03,566.38" fill="#EE6677"/><polygon points="463.85,581.18 455.15,566.11 472.55,566.11" fill="#EE6677"/><polygon points="483.36,580.95 474.66,565.88 492.06,565.88" fill="#EE6677"/><polygon points="502.87,580.75 494.17,565.68 511.57,565.68" fill="#EE6677"/>
<polygon points="112.61,825.08 121.41,833.88 112.61,842.68 103.81,833.88" fill="#BBBBBB"/><polygon points="132.13,716.16 140.93,724.96 132.13,733.76 123.33,724.96" fill="#BBBBBB"/><polygon points="151.64,568.45 160.44,577.25 151.64,586.05 142.84,577.25" fill="#BBBBBB"/><polygon points="171.15,562.67 179.95,571.47 171.15,580.27 162.35,571.47" fill="#BBBBBB"/><polygon points="190.67,558.1 199.47,566.9 190.67,575.7 181.87,566.9" fill="#BBBBBB"/><polygon points="210.18,555.06 218.98,563.86 210.18,572.66 201.38,563.86" fill="#BBBBBB"/><polygon points="229.69,553.08 238.49,561.88 229.69,570.68 220.89,561.88" fill="#BBBBBB"/><polygon points="249.2,551.26 258,560.06 249.2,568.86 240.4,560.06" fill="#BBBBBB"/><polygon points="268.72,550.34 277.52,559.14 268.72,567.94 259.92,559.14" fill="#BBBBBB"/><polygon points="288.23,549.89 297.03,558.69 288.23,567.49 279.43,558.69" fill="#BBBBBB"/><polygon points="307.74,548.97 316.54,557.77 307.74,566.57 298.94,557.77" fill="#BBBBBB"/><polygon points="327.26,548.31 336.06,557.11 327.26,565.91 318.46,557.11" fill="#BBBBBB"/><polygon points="346.77,547.73 355.57,556.53 346.77,565.33 337.97,556.53" fill="#BBBBBB"/><polygon points="366.28,547.23 375.08,556.03 366.28,564.83 357.48,556.03" fill="#BBBBBB"/><polygon points="385.8,546.8 394.6,555.6 385.8,564.4 377,555.6" fill="#BBBBBB"/><polygon points="405.31,546.42 414.11,555.22 405.31,564.02 396.51,555.22" fill="#BBBBBB"/><polygon points="424.82,546.1 433.62,554.9 424.82,563.7 416.02,554.9" fill="#BBBBBB"/><polygon points="444.33,545.81 453.13,554.61 444.33,563.41 435.53,554.61" fill="#BBBBBB"/><polygon points="463.85,545.57 472.65,554.37 463.85,563.17 455.05,554.37" fill="#BBBBBB"/><polygon points="483.36,545.36 492.16,554.16 483.36,562.96 474.56,554.16" fill="#BBBBBB"/><polygon points="502.87,545.17 511.67,553.97 502.87,562.77 494.07,553.97" fill="#BBBBBB"/>
<polygon points="102.57,833.88 117.64,825.18 117.64,842.58" fill="#AA3377"/><polygon points="122.08,780.94 137.15,772.24 137.15,789.64" fill="#AA3377"/><polygon points="141.59,592.31 156.66,583.61 156.66,601.01" fill="#AA3377"/><polygon points="161.11,586.37 176.17,577.67 176.17,595.07" fill="#AA3377"/><polygon points="180.62,579.83 195.69,571.13 195.69,588.53" fill="#AA3377"/><polygon points="200.13,575.27 215.2,566.57 215.2,583.97" fill="#AA3377"/><polygon points="219.65,572.07 234.71,563.37 234.71,580.77" fill="#AA3377"/><polygon points="239.16,569.03 254.23,560.33 254.23,577.73" fill="#AA3377"/><polygon points="258.67,567.51 273.74,558.81 273.74,576.21" fill="#AA3377"/><polygon points="278.18,566.14 293.25,557.44 293.25,574.84" fill="#AA3377"/><polygon points="297.7,565.23 312.77,556.53 312.77,573.93" fill="#AA3377"/><polygon points="317.21,564.32 332.28,555.62 332.28,573.02" fill="#AA3377"/><polygon points="336.72,563.54 351.79,554.84 351.79,572.24" fill="#AA3377"/><polygon points="356.24,562.86 371.31,554.16 371.31,571.56" fill="#AA3377"/><polygon points="375.75,562.27 390.82,553.57 390.82,570.97" fill="#AA3377"/><polygon points="395.26,561.76 410.33,553.06 410.33,570.46" fill="#AA3377"/><polygon points="414.78,561.31 429.84,552.61 429.84,570.01" fill="#AA3377"/><polygon points="434.29,560.93 449.36,552.23 449.36,569.63" fill="#AA3377"/><polygon points="453.8,560.6 468.87,551.9 468.87,569.3" fill="#AA3377"/><polygon points="473.32,560.31 488.38,551.61 488.38,569.01" fill="#AA3377"/><polygon points="492.83,560.06 507.9,551.36 507.9,568.76" fill="#AA3377"/>
<path d="M370.2,635H419.7" stroke="#4477AA" stroke-width="1.15"/>
<rect x="387.2" y="627.2" width="15.6" height="15.6" fill="#4477AA"/>
<text x="427.4" y="644.9" font-size="27.5" style="font-family:'Liberation Serif', 'Times New Roman', Times, serif">α=1.173</text>
<path d="M370.2,671.7H419.7" stroke="#228833" stroke-width="1.15"/>
<circle cx="395" cy="671.7" r="8.64" fill="#228833"/>
<text x="427.4" y="681.6" font-size="27.5" style="font-family:'Liberation Serif', 'Times New Roman', Times, serif">α=1.189</text>
<path d="M370.2,708.4H419.7" stroke="#CCBB44" stroke-width="1.15"/>
<polygon points="395,696.35 384.56,714.43 405.44,714.43" fill="#CCBB44"/>
<text x="427.4" y="718.3" font-size="27.5" style="font-family:'Liberation Serif', 'Times New Roman', Times, serif">α=1.305</text>
<path d="M370.2,745.1H419.7" stroke="#EE6677" stroke-width="1.15"/>
<polygon points="395,757.15 384.56,739.07 405.44,739.07" fill="#EE6677"/>
<text x="427.4" y="755" font-size="27.5" style="font-family:'Liberation Serif', 'Times New Roman', Times, serif">α=1.398</text>
<path d="M370.2,781.8H419.7" stroke="#BBBBBB" stroke-width="1.15"/>
<polygon points="395,771.24 405.56,781.8 395,792.36 384.44,781.8" fill="#BBBBBB"/>
<text x="427.4" y="791.7" font-size="27.5" style="font-family:'Liberation Serif', 'Times New Roman', Times, serif">α=1.492</text>
<path d="M370.2,818.5H419.7" stroke="#AA3377" stroke-width="1.15"/>
<polygon points="382.95,818.5 401.03,808.06 401.03,828.94" fill="#AA3377"/>
<text x="427.4" y="828.4" font-size="27.5" style="font-family:'Liberation Serif', 'Times New Roman', Times, serif">α=1.654</text>
<text x="1207.5" y="517.3" font-size="50">f</text>
<path d="M1298.4,832.74h18.6M1298.4,794.63h9.2M1298.4,756.51h18.6M1298.4,718.39h9.2M1298.4,680.28h18.6M1298.4,642.16h9.2M1298.4,604.05h18.6M1298.4,565.93h9.2M1298.4,527.82h18.6M1317.98,851.8v-18.6M1366.92,851.8v-9.2M1415.87,851.8v-18.6M1464.82,851.8v-9.2M1513.76,851.8v-18.6M1562.71,851.8v-9.2M1611.65,851.8v-18.6M1660.6,851.8v-9.2M1709.54,851.8v-18.6" stroke="#000" stroke-width="2.3" fill="none"/>
<rect x="1298.4" y="489.7" width="450.3" height="362.1" fill="none" stroke="#000" stroke-width="2.3"/>
<text x="1294.2" y="842.24" font-size="27.5" text-anchor="end">0</text>
<text x="1294.2" y="766.01" font-size="27.5" text-anchor="end">50</text>
<text x="1294.2" y="689.78" font-size="27.5" text-anchor="end">100</text>
<text x="1294.2" y="613.55" font-size="27.5" text-anchor="end">150</text>
<text x="1294.2" y="537.32" font-size="27.5" text-anchor="end">200</text>
<text x="1317.98" y="879.5" font-size="27.5" text-anchor="middle">0</text>
<text x="1415.87" y="879.5" font-size="27.5" text-anchor="middle">5</text>
<text x="1513.76" y="879.5" font-size="27.5" text-anchor="middle">10</text>
<text x="1611.65" y="879.5" font-size="27.5" text-anchor="middle">15</text>
<text x="1709.54" y="879.5" font-size="27.5" text-anchor="middle">20</text>
<text x="1524.15" y="914.1" font-size="31" text-anchor="middle">Time (min)</text>
<text transform="translate(1233.2,669.75) rotate(-90)" font-size="30.6" text-anchor="middle">Gas uptake (<tspan font-style="italic">V</tspan><tspan font-size="21" dy="9">g</tspan><tspan dy="-9"> </tspan><tspan font-style="italic">V</tspan><tspan font-size="21" dy="9">w</tspan><tspan font-size="21" dy="-21.5">-1</tspan><tspan dy="12.5" dx="3.5">)</tspan></text>
<path d="M1317.98,832.74C1317.98,832.74 1317.98,832.74 1321.24,826.39C1324.5,820.04 1331.03,807.33 1337.56,783.04C1344.08,758.75 1350.61,722.87 1357.13,694.36C1363.66,665.85 1370.19,644.7 1376.71,627.7C1383.24,610.7 1389.77,597.85 1396.29,589.26C1402.82,580.67 1409.34,576.35 1415.87,572.97C1422.4,569.59 1428.92,567.15 1435.45,565.5C1441.97,563.85 1448.5,562.98 1455.03,562.22C1461.55,561.46 1468.08,560.8 1474.6,560.16C1481.13,559.53 1487.66,558.92 1494.18,558.33C1500.71,557.75 1507.23,557.19 1513.76,556.67C1520.29,556.14 1526.81,555.65 1533.34,555.2C1539.87,554.74 1546.39,554.31 1552.92,553.92C1559.44,553.52 1565.97,553.15 1572.5,552.81C1579.02,552.47 1585.55,552.15 1592.07,551.85C1598.6,551.55 1605.13,551.28 1611.65,551.02C1618.18,550.76 1624.7,550.52 1631.23,550.3C1637.76,550.08 1644.28,549.87 1650.81,549.67C1657.33,549.48 1663.86,549.3 1670.39,549.13C1676.91,548.96 1683.44,548.81 1689.97,548.66C1696.49,548.52 1703.02,548.38 1706.28,548.31C1709.54,548.25 1709.54,548.25 1709.54,548.25" stroke="#D81B60" stroke-width="1.35" fill="none"/>
<circle cx="1317.98" cy="832.74" r="7.2" fill="#D81B60"/><circle cx="1337.56" cy="794.63" r="7.2" fill="#D81B60"/><circle cx="1357.13" cy="686.99" r="7.2" fill="#D81B60"/><circle cx="1376.71" cy="623.56" r="7.2" fill="#D81B60"/><circle cx="1396.29" cy="584.99" r="7.2" fill="#D81B60"/><circle cx="1415.87" cy="572.03" r="7.2" fill="#D81B60"/><circle cx="1435.45" cy="564.71" r="7.2" fill="#D81B60"/><circle cx="1455.03" cy="562.12" r="7.2" fill="#D81B60"/><circle cx="1474.6" cy="560.14" r="7.2" fill="#D81B60"/><circle cx="1494.18" cy="558.31" r="7.2" fill="#D81B60"/><circle cx="1513.76" cy="556.63" r="7.2" fill="#D81B60"/><circle cx="1533.34" cy="555.16" r="7.2" fill="#D81B60"/><circle cx="1552.92" cy="553.89" r="7.2" fill="#D81B60"/><circle cx="1572.5" cy="552.79" r="7.2" fill="#D81B60"/><circle cx="1592.07" cy="551.83" r="7.2" fill="#D81B60"/><circle cx="1611.65" cy="551" r="7.2" fill="#D81B60"/><circle cx="1631.23" cy="550.28" r="7.2" fill="#D81B60"/><circle cx="1650.81" cy="549.66" r="7.2" fill="#D81B60"/><circle cx="1670.39" cy="549.12" r="7.2" fill="#D81B60"/><circle cx="1689.97" cy="548.65" r="7.2" fill="#D81B60"/><circle cx="1709.54" cy="548.25" r="7.2" fill="#D81B60"/>
<path d="M1317.98,832.74C1317.98,832.74 1317.98,832.74 1321.24,813.71C1324.5,794.68 1331.03,756.61 1337.56,713.44C1344.08,670.27 1350.61,621.99 1357.13,596.55C1363.66,571.12 1370.19,568.52 1376.71,566.41C1383.24,564.31 1389.77,562.68 1396.29,561.48C1402.82,560.29 1409.34,559.53 1415.87,558.84C1422.4,558.16 1428.92,557.55 1435.45,556.96C1441.97,556.38 1448.5,555.82 1455.03,555.26C1461.55,554.7 1468.08,554.14 1474.6,553.71C1481.13,553.28 1487.66,552.97 1494.18,552.64C1500.71,552.31 1507.23,551.96 1513.76,551.64C1520.29,551.33 1526.81,551.07 1533.34,550.82C1539.87,550.57 1546.39,550.34 1552.92,550.12C1559.44,549.9 1565.97,549.7 1572.5,549.52C1579.02,549.33 1585.55,549.16 1592.07,548.99C1598.6,548.83 1605.13,548.68 1611.65,548.54C1618.18,548.4 1624.7,548.27 1631.23,548.15C1637.76,548.02 1644.28,547.91 1650.81,547.81C1657.33,547.7 1663.86,547.6 1670.39,547.51C1676.91,547.42 1683.44,547.33 1689.97,547.25C1696.49,547.17 1703.02,547.1 1706.28,547.06C1709.54,547.03 1709.54,547.03 1709.54,547.03" stroke="#1E88E5" stroke-width="1.35" fill="none"/>
<polygon points="1317.98,822.7 1309.28,837.76 1326.68,837.76" fill="#1E88E5"/><polygon points="1337.56,708.5 1328.86,723.57 1346.26,723.57" fill="#1E88E5"/><polygon points="1357.13,563.66 1348.43,578.73 1365.83,578.73" fill="#1E88E5"/><polygon points="1376.71,555.89 1368.01,570.95 1385.41,570.95" fill="#1E88E5"/><polygon points="1396.29,551.01 1387.59,566.08 1404.99,566.08" fill="#1E88E5"/><polygon points="1415.87,548.72 1407.17,563.79 1424.57,563.79" fill="#1E88E5"/><polygon points="1435.45,546.89 1426.75,561.96 1444.15,561.96" fill="#1E88E5"/><polygon points="1455.03,545.21 1446.33,560.28 1463.73,560.28" fill="#1E88E5"/><polygon points="1474.6,543.54 1465.9,558.6 1483.3,558.6" fill="#1E88E5"/><polygon points="1494.18,542.62 1485.48,557.69 1502.88,557.69" fill="#1E88E5"/><polygon points="1513.76,541.55 1505.06,556.62 1522.46,556.62" fill="#1E88E5"/><polygon points="1533.34,540.75 1524.64,555.82 1542.04,555.82" fill="#1E88E5"/><polygon points="1552.92,540.06 1544.22,555.13 1561.62,555.13" fill="#1E88E5"/><polygon points="1572.5,539.46 1563.8,554.53 1581.2,554.53" fill="#1E88E5"/><polygon points="1592.07,538.94 1583.37,554 1600.77,554" fill="#1E88E5"/><polygon points="1611.65,538.48 1602.95,553.55 1620.35,553.55" fill="#1E88E5"/><polygon points="1631.23,538.09 1622.53,553.16 1639.93,553.16" fill="#1E88E5"/><polygon points="1650.81,537.75 1642.11,552.82 1659.51,552.82" fill="#1E88E5"/><polygon points="1670.39,537.46 1661.69,552.53 1679.09,552.53" fill="#1E88E5"/><polygon points="1689.97,537.2 1681.27,552.27 1698.67,552.27" fill="#1E88E5"/><polygon points="1709.54,536.98 1700.84,552.05 1718.24,552.05" fill="#1E88E5"/>
<path d="M1317.98,832.74C1317.98,832.74 1317.98,832.74 1321.24,817.88C1324.5,803.01 1331.03,773.28 1337.56,742.15C1344.08,711.03 1350.61,678.5 1357.13,651.74C1363.66,624.99 1370.19,604 1376.71,592.51C1383.24,581.03 1389.77,579.04 1396.29,577.26C1402.82,575.49 1409.34,573.91 1415.87,572.61C1422.4,571.32 1428.92,570.3 1435.45,569.54C1441.97,568.78 1448.5,568.27 1455.03,567.84C1461.55,567.41 1468.08,567.05 1474.6,566.77C1481.13,566.49 1487.66,566.29 1494.18,566.06C1500.71,565.83 1507.23,565.58 1513.76,565.28C1520.29,564.98 1526.81,564.65 1533.34,564.33C1539.87,564.01 1546.39,563.72 1552.92,563.45C1559.44,563.17 1565.97,562.92 1572.5,562.68C1579.02,562.45 1585.55,562.23 1592.07,562.02C1598.6,561.81 1605.13,561.62 1611.65,561.44C1618.18,561.27 1624.7,561.1 1631.23,560.95C1637.76,560.79 1644.28,560.65 1650.81,560.51C1657.33,560.38 1663.86,560.26 1670.39,560.14C1676.91,560.02 1683.44,559.92 1689.97,559.82C1696.49,559.72 1703.02,559.62 1706.28,559.57C1709.54,559.53 1709.54,559.53 1709.54,559.53" stroke="#004D40" stroke-width="1.35" fill="none"/>
<polygon points="1317.98,823.94 1326.78,832.74 1317.98,841.54 1309.18,832.74" fill="#004D40"/><polygon points="1337.56,734.75 1346.36,743.55 1337.56,752.35 1328.76,743.55" fill="#004D40"/><polygon points="1357.13,637.17 1365.93,645.97 1357.13,654.77 1348.33,645.97" fill="#004D40"/><polygon points="1376.71,574.21 1385.51,583.01 1376.71,591.81 1367.91,583.01" fill="#004D40"/><polygon points="1396.29,568.26 1405.09,577.06 1396.29,585.86 1387.49,577.06" fill="#004D40"/><polygon points="1415.87,563.54 1424.67,572.34 1415.87,581.14 1407.07,572.34" fill="#004D40"/><polygon points="1435.45,560.49 1444.25,569.29 1435.45,578.09 1426.65,569.29" fill="#004D40"/><polygon points="1455.03,558.96 1463.83,567.76 1455.03,576.56 1446.23,567.76" fill="#004D40"/><polygon points="1474.6,557.89 1483.4,566.69 1474.6,575.49 1465.8,566.69" fill="#004D40"/><polygon points="1494.18,557.28 1502.98,566.08 1494.18,574.88 1485.38,566.08" fill="#004D40"/><polygon points="1513.76,556.52 1522.56,565.32 1513.76,574.12 1504.96,565.32" fill="#004D40"/><polygon points="1533.34,555.51 1542.14,564.31 1533.34,573.11 1524.54,564.31" fill="#004D40"/><polygon points="1552.92,554.63 1561.72,563.43 1552.92,572.23 1544.12,563.43" fill="#004D40"/><polygon points="1572.5,553.87 1581.3,562.67 1572.5,571.47 1563.7,562.67" fill="#004D40"/><polygon points="1592.07,553.21 1600.87,562.01 1592.07,570.81 1583.27,562.01" fill="#004D40"/><polygon points="1611.65,552.63 1620.45,561.43 1611.65,570.23 1602.85,561.43" fill="#004D40"/><polygon points="1631.23,552.14 1640.03,560.94 1631.23,569.74 1622.43,560.94" fill="#004D40"/><polygon points="1650.81,551.71 1659.61,560.51 1650.81,569.31 1642.01,560.51" fill="#004D40"/><polygon points="1670.39,551.33 1679.19,560.13 1670.39,568.93 1661.59,560.13" fill="#004D40"/><polygon points="1689.97,551.01 1698.77,559.81 1689.97,568.61 1681.17,559.81" fill="#004D40"/><polygon points="1709.54,550.73 1718.34,559.53 1709.54,568.33 1700.74,559.53" fill="#004D40"/>
<path d="M1504.1,645.7H1519M1538.6,645.7H1553.8" stroke="#D81B60" stroke-width="1.15"/>
<circle cx="1528.8" cy="645.7" r="7.42" fill="#D81B60"/>
<text x="1560.2" y="654.9" font-size="27.3">active ice 2</text>
<path d="M1504.1,679.35H1519M1538.6,679.35H1553.8" stroke="#1E88E5" stroke-width="1.15"/>
<polygon points="1528.8,669 1519.84,684.52 1537.76,684.52" fill="#1E88E5"/>
<text x="1560.2" y="688.55" font-size="27.3">active ice 3</text>
<path d="M1504.1,713H1553.8" stroke="#004D40" stroke-width="1.15"/>
<polygon points="1528.8,703.94 1537.86,713 1528.8,722.06 1519.74,713" fill="#004D40"/>
<text x="1560.2" y="722.2" font-size="27.3">active ice 4</text>
<text x="611.2" y="517.7" font-size="50">e</text>
<defs>
<clipPath id="pclip"><rect x="670" y="490.2" width="431.8" height="429.8"/></clipPath>
<linearGradient id="gTube" x1="0" x2="1" y1="0" y2="0"><stop offset="0" stop-color="#080808"/><stop offset="0.025" stop-color="#1c1c1c"/><stop offset="0.06" stop-color="#121212"/><stop offset="0.15" stop-color="#0a0a0a"/><stop offset="0.235" stop-color="#0b0b0b"/><stop offset="0.24" stop-color="#111111"/><stop offset="0.5" stop-color="#141414"/><stop offset="0.78" stop-color="#101010"/><stop offset="0.79" stop-color="#0b0b0b"/><stop offset="0.9" stop-color="#0f0f0f"/><stop offset="0.955" stop-color="#191919"/><stop offset="1" stop-color="#080808"/></linearGradient>
<linearGradient id="gIce" x1="0" x2="1" y1="0" y2="0"><stop offset="0" stop-color="#b9b9b9"/><stop offset="0.12" stop-color="#c9c9c8"/><stop offset="0.3" stop-color="#d6d5d3"/><stop offset="0.55" stop-color="#dedcda"/><stop offset="0.85" stop-color="#cfcdcb"/><stop offset="1" stop-color="#b2b0ae"/></linearGradient>
<linearGradient id="gIceV" x1="0" x2="0" y1="0" y2="1"><stop offset="0" stop-color="#fff" stop-opacity="0.10"/><stop offset="0.4" stop-color="#fff" stop-opacity="0"/><stop offset="0.6" stop-color="#000" stop-opacity="0"/><stop offset="1" stop-color="#000" stop-opacity="0.10"/></linearGradient>
<linearGradient id="gMetal" x1="0" x2="1" y1="0" y2="0"><stop offset="0" stop-color="#3a3a3a"/><stop offset="0.025" stop-color="#707070"/><stop offset="0.055" stop-color="#3a3a3a"/><stop offset="0.1" stop-color="#262626"/><stop offset="0.24" stop-color="#2c2c2c"/><stop offset="0.285" stop-color="#8a8a8a"/><stop offset="0.315" stop-color="#e0e0e0"/><stop offset="0.35" stop-color="#9a9a9a"/><stop offset="0.39" stop-color="#6a6a6a"/><stop offset="0.425" stop-color="#9c9c9c"/><stop offset="0.45" stop-color="#686868"/><stop offset="0.56" stop-color="#4a4a4a"/><stop offset="0.7" stop-color="#2c2c2c"/><stop offset="0.82" stop-color="#303030"/><stop offset="0.86" stop-color="#7a7a7a"/><stop offset="0.9" stop-color="#909090"/><stop offset="0.93" stop-color="#555"/><stop offset="0.97" stop-color="#777"/><stop offset="1" stop-color="#333"/></linearGradient>
<linearGradient id="gWallV" x1="0" x2="0" y1="0" y2="1"><stop offset="0" stop-color="#fff" stop-opacity="0"/><stop offset="0.55" stop-color="#fff" stop-opacity="0.03"/><stop offset="0.85" stop-color="#fff" stop-opacity="0.14"/><stop offset="1" stop-color="#fff" stop-opacity="0.17"/></linearGradient>
<linearGradient id="gMetalV" x1="0" x2="0" y1="0" y2="1"><stop offset="0" stop-color="#000" stop-opacity="0.55"/><stop offset="0.25" stop-color="#000" stop-opacity="0"/><stop offset="0.8" stop-color="#000" stop-opacity="0.05"/><stop offset="1" stop-color="#000" stop-opacity="0.6"/></linearGradient>
<linearGradient id="gStreak" x1="0" x2="0" y1="0" y2="1"><stop offset="0" stop-color="#fff" stop-opacity="0.75"/><stop offset="0.38" stop-color="#fff" stop-opacity="0.9"/><stop offset="0.42" stop-color="#fff" stop-opacity="0.5"/><stop offset="1" stop-color="#fff" stop-opacity="0.35"/></linearGradient>
<filter id="fBlur1" x="-50%" y="-5%" width="200%" height="110%"><feGaussianBlur stdDeviation="0.9 0"/></filter>
<filter id="fBlur3" x="-100%" y="-5%" width="300%" height="110%"><feGaussianBlur stdDeviation="2.5 0"/></filter>
<filter id="fSoft" x="-30%" y="-100%" width="160%" height="300%"><feGaussianBlur stdDeviation="1.2"/></filter>
<filter id="fSoft3" x="-100%" y="-100%" width="300%" height="300%"><feGaussianBlur stdDeviation="3"/></filter>
<filter id="fSoft6" x="-100%" y="-100%" width="300%" height="300%"><feGaussianBlur stdDeviation="6"/></filter>
<filter id="fCloud" x="0" y="0" width="100%" height="100%"><feTurbulence type="fractalNoise" baseFrequency="0.035 0.05" numOctaves="3" seed="4" result="n"/><feColorMatrix in="n" type="matrix" values="0 0 0 0 0.45  0 0 0 0 0.45  0 0 0 0 0.45  0.9 0 0 0 -0.38" result="c"/><feComposite in="c" in2="SourceGraphic" operator="in"/></filter>
<filter id="fFrost" x="0" y="0" width="100%" height="100%"><feTurbulence type="fractalNoise" baseFrequency="0.45 0.38" numOctaves="3" seed="11" result="n"/><feColorMatrix in="n" type="matrix" values="0 0 0 0 0.05  0 0 0 0 0.05  0 0 0 0 0.05  2.4 0 0 0 -0.8" result="c"/><feGaussianBlur in="c" stdDeviation="0.7" result="cb"/><feComposite in="cb" in2="SourceGraphic" operator="in"/></filter>
<filter id="fFrost2" x="0" y="0" width="100%" height="100%"><feTurbulence type="fractalNoise" baseFrequency="0.3 0.26" numOctaves="2" seed="29" result="n"/><feColorMatrix in="n" type="matrix" values="0 0 0 0 0.9  0 0 0 0 0.9  0 0 0 0 0.9  3 0 0 0 -1.3" result="c"/><feGaussianBlur in="c" stdDeviation="0.6" result="cb"/><feComposite in="cb" in2="SourceGraphic" operator="in"/></filter>
<filter id="fRag" x="-5%" y="-5%" width="110%" height="110%"><feTurbulence type="fractalNoise" baseFrequency="0.09 0.11" numOctaves="2" seed="3" result="n"/><feDisplacementMap in="SourceGraphic" in2="n" scale="11" xChannelSelector="R" yChannelSelector="G" result="d"/><feGaussianBlur in="d" stdDeviation="0.9"/></filter>
</defs>
<g clip-path="url(#pclip)">
<rect x="670" y="490.2" width="431.8" height="429.8" fill="#060606"/>
<rect x="713" y="490.2" width="335" height="429.8" fill="url(#gTube)"/>
<rect x="713" y="640" width="280" height="265" fill="url(#gWallV)"/>
<rect x="993" y="640" width="55" height="265" fill="url(#gWallV)" opacity="0.45"/>
<rect x="728" y="640" width="14" height="265" fill="url(#gWallV)" filter="url(#fBlur3)"/>
<rect x="1026" y="640" width="16" height="265" fill="url(#gWallV)" filter="url(#fBlur3)"/>
<rect x="714" y="490.2" width="8" height="429.8" fill="#333" opacity="0.4" filter="url(#fBlur3)"/>
<rect x="744.9" y="490.2" width="1.6" height="429.8" fill="#8c8680" opacity="0.8" filter="url(#fBlur1)"/>
<rect x="785.8" y="560" width="1.4" height="360" fill="#6a645e" opacity="0.6" filter="url(#fBlur1)"/>
<rect x="791.7" y="490.2" width="1.8" height="429.8" fill="#a09890" opacity="0.85" filter="url(#fBlur1)"/>
<rect x="827.5" y="490.2" width="4" height="429.8" fill="#6f8090" opacity="0.5" filter="url(#fBlur3)"/>
<rect x="829.1" y="490.2" width="1.3" height="429.8" fill="#a8b8c4" opacity="0.6" filter="url(#fBlur1)"/>
<rect x="866.2" y="490.2" width="4.5" height="429.8" fill="#44525e" opacity="0.45" filter="url(#fBlur3)"/>
<rect x="871.4" y="490.2" width="1.2" height="429.8" fill="#77838c" opacity="0.4" filter="url(#fBlur1)"/>
<rect x="886.3" y="490.2" width="3" height="429.8" fill="#34404a" opacity="0.45" filter="url(#fBlur3)"/>
<rect x="903" y="490.2" width="6" height="429.8" fill="#50606c" opacity="0.5" filter="url(#fBlur3)"/>
<rect x="907.8" y="490.2" width="1.4" height="429.8" fill="#8c9aa6" opacity="0.45" filter="url(#fBlur1)"/>
<rect x="974.5" y="497" width="3" height="423" fill="#a89e90" opacity="0.9" filter="url(#fBlur1)"/>
<rect x="994.8" y="545" width="1.4" height="375" fill="#6e6258" opacity="0.75" filter="url(#fBlur1)"/>
<rect x="1020" y="490.2" width="4" height="429.8" fill="#2e2c2a" opacity="0.8" filter="url(#fBlur3)"/>
<rect x="1038" y="490.2" width="6" height="429.8" fill="#2c2c2c" opacity="0.8" filter="url(#fBlur3)"/>
<g filter="url(#fRag)"><path d="M765,650 L768,632 L780,624 L794,626 L794,836 L766,834 Z" fill="#a4a4a4" opacity="0.85"/></g>
<g filter="url(#fFrost)" opacity="0.5"><path d="M762,640 L765,622 L776,618 L794,620 L794,836 L763,834 Z" fill="#000"/></g>
<g filter="url(#fFrost2)" opacity="0.5"><path d="M762,640 L765,622 L776,618 L794,620 L794,836 L763,834 Z" fill="#fff"/></g>
<g filter="url(#fRag)"><path d="M980,672 L992,668 L993,756 L980,758 Z" fill="#555" opacity="0.35"/></g>
<g filter="url(#fFrost)" opacity="0.6"><path d="M960,666 L999,660 L999,764 L960,764 Z" fill="#000"/></g>
<g filter="url(#fFrost2)" opacity="0.45"><path d="M962,662 L997,658 L997,764 L962,764 Z" fill="#fff"/></g>
<g filter="url(#fRag)">
<path d="M792,760 L792,634.8 L792,634.8 L795.6,636.1 L798.9,635.6 L803.4,633.7 L808.4,633.6 L813.1,633.8 L816.5,635.2 L822.8,634 L826.7,636 L833.5,635.8 L838.1,632.4 L841.2,631.9 L845.4,629.1 L848.9,629.7 L855.1,629.2 L860.5,628.1 L865,627.7 L868.2,625.7 L872,628.2 L876.7,626.8 L882.1,627.3 L886.3,628.7 L892.1,626.5 L897.4,627.6 L903.9,628.4 L908,629.4 L911.5,627.2 L917.5,626.1 L922.5,625.7 L928.2,628.6 L933.5,629 L937.7,628.3 L943.1,627.8 L947.9,628.9 L954.7,630.4 L960.3,628.7 L966.2,631.1 L968,631.8 L975,625 L990,626 L997,634 L998,650 L994,660 L982,663 L972,670 L968,692 L966,760 Z" fill="url(#gIce)"/>
<path d="M766,760 L792,757 L966,757 L985,765 L997,780 L999,836 L765,836 L764,790 Z" fill="url(#gIce)"/>
<path d="M792,760 L792,634.8 L792,634.8 L795.6,636.1 L798.9,635.6 L803.4,633.7 L808.4,633.6 L813.1,633.8 L816.5,635.2 L822.8,634 L826.7,636 L833.5,635.8 L838.1,632.4 L841.2,631.9 L845.4,629.1 L848.9,629.7 L855.1,629.2 L860.5,628.1 L865,627.7 L868.2,625.7 L872,628.2 L876.7,626.8 L882.1,627.3 L886.3,628.7 L892.1,626.5 L897.4,627.6 L903.9,628.4 L908,629.4 L911.5,627.2 L917.5,626.1 L922.5,625.7 L928.2,628.6 L933.5,629 L937.7,628.3 L943.1,627.8 L947.9,628.9 L954.7,630.4 L960.3,628.7 L966.2,631.1 L968,631.8 L975,625 L990,626 L997,634 L998,650 L994,660 L982,663 L972,670 L968,692 L966,760 Z" fill="url(#gIceV)"/>
</g>
<g filter="url(#fCloud)" opacity="0.7"><path d="M792,760 L792,634.8 L792,634.8 L795.6,636.1 L798.9,635.6 L803.4,633.7 L808.4,633.6 L813.1,633.8 L816.5,635.2 L822.8,634 L826.7,636 L833.5,635.8 L838.1,632.4 L841.2,631.9 L845.4,629.1 L848.9,629.7 L855.1,629.2 L860.5,628.1 L865,627.7 L868.2,625.7 L872,628.2 L876.7,626.8 L882.1,627.3 L886.3,628.7 L892.1,626.5 L897.4,627.6 L903.9,628.4 L908,629.4 L911.5,627.2 L917.5,626.1 L922.5,625.7 L928.2,628.6 L933.5,629 L937.7,628.3 L943.1,627.8 L947.9,628.9 L954.7,630.4 L960.3,628.7 L966.2,631.1 L968,631.8 L975,625 L990,626 L997,634 L998,650 L994,660 L982,663 L972,670 L968,692 L966,760 Z" fill="#fff"/><path d="M766,760 L792,757 L966,757 L985,765 L997,780 L999,836 L765,836 L764,790 Z" fill="#fff"/></g>
<ellipse cx="812" cy="700" rx="16" ry="58" fill="#000" opacity="0.09" filter="url(#fSoft6)"/>
<ellipse cx="940" cy="798" rx="52" ry="24" fill="#000" opacity="0.07" filter="url(#fSoft6)"/>
<ellipse cx="850" cy="816" rx="60" ry="14" fill="#000" opacity="0.06" filter="url(#fSoft6)"/>
<ellipse cx="885" cy="690" rx="55" ry="45" fill="#fff" opacity="0.14" filter="url(#fSoft6)"/>
<ellipse cx="895" cy="738" rx="66" ry="14" fill="#000" opacity="0.05" filter="url(#fSoft6)"/>
<path d="M800,668 C840,660 880,672 930,664" stroke="#fff" stroke-width="5" fill="none" opacity="0.18" filter="url(#fSoft3)"/>
<path d="M815,720 C850,712 900,726 955,716" stroke="#9a9a9a" stroke-width="3" fill="none" opacity="0.22" filter="url(#fSoft3)"/>
<path d="M764,764 L798,760 L800,836 L765,836 Z" fill="#444" opacity="0.2" filter="url(#fSoft3)"/>
<g filter="url(#fFrost)" opacity="0.3"><path d="M764,762 L792,760 L800,800 L796,836 L765,836 Z" fill="#000"/></g>
<path d="M772,626 L772,622.6 L774.7,624.2 L776.6,623.3 L778.8,621.8 L780.7,624.7 L782.8,622.4 L785.6,625.1 L787.6,623.3 L790.7,625.2 L794.5,625.1 L796.9,623.1 L799.6,625.2 L803.7,622 L805.9,622.3 L808.3,623.4 L811.5,622.5 L813.3,623.1 L816,623.8 L820.1,624.3 L823.1,624 L826.5,621.5 L830.5,624.7 L834.4,624.8 L837.1,623.1 L839.2,624.1 L841.1,621.6 L843.4,622 L846,621.5 L847.8,622 L849.9,622.9 L851.7,625.1 L855,622 L857.4,622.8 L860.1,621.8 L863.9,625.7 L866.8,623.4 L868.9,621.7 L871.5,622.5 L875.3,622 L877.1,625.5 L880.2,621.9 L883.3,621.4 L886.4,625.6 L890.2,624.4 L892.7,622.9 L894.9,624.7 L897.9,624.7 L900.5,622.3 L904.3,625.6 L908.1,624.8 L911.9,624.6 L914.2,623.6 L916.9,621.4 L918.8,622.5 L921.2,624.3 L925.3,623.3 L929.3,625.6 L933.4,622.9 L935.7,622.3 L938,622.2 L941.3,625.3 L945.1,623.4 L948.5,624.8 L950.5,624.2 L954.5,624.7 L958.1,623.4 L960.3,624.8 L962.9,624.8 L967,623 L969.8,625.5 L973.3,622 L975.4,622 L979.4,624.8 L981.6,624.9 L985.7,624.2 L988.4,623.7 L990.5,621.4 L994.6,624.2 L996,625.4" fill="none" stroke="#c4c4c4" stroke-width="1.3" opacity="0.45" filter="url(#fSoft)"/>
<path d="M969,628 L990,627 L998,640 L996,658 L976,665 L969,650 Z" fill="#777" opacity="0.35" filter="url(#fSoft)"/>
<path d="M962,680 L973,672 L973,752 L964,750 Z" fill="#1a1a1a" opacity="0.35" filter="url(#fSoft3)"/>
<path d="M796,757 C830,753 850,755 870,755 S930,757 966,758" stroke="#8c8a88" stroke-width="5.5" fill="none" opacity="0.6" filter="url(#fSoft)"/>
<path d="M836,755 C870,753.5 900,756.5 930,757 S955,757 966,757.5" stroke="#34322f" stroke-width="2" fill="none" opacity="0.85" filter="url(#fSoft)"/>
<path d="M822,810 C850,806 870,815 905,808" stroke="#8a8886" stroke-width="1.6" fill="none" opacity="0.5" filter="url(#fSoft)"/>
<rect x="766" y="800" width="233" height="36" fill="#000" opacity="0.06" filter="url(#fSoft3)"/>
<rect x="764" y="832" width="234" height="6.5" fill="#6e6e6e" opacity="0.85" filter="url(#fSoft)"/>
<rect x="762" y="838" width="236" height="17" fill="#0d0d0d"/>
<path d="M764,842 L764,842.2 L768.5,843.9 L771.2,841.4 L774.2,841.4 L777.9,841.4 L781.2,840.9 L785.8,841.9 L789.2,842.9 L793.8,842.2 L798.5,842.5 L802.1,842.6 L804.2,842.2 L806.9,840.3 L811.2,841.1 L814.6,843.5 L818.3,841.7 L821.8,842.7 L826.1,840.8 L829.8,841.4 L832.7,843.7 L836.2,842.8 L840.4,844.3 L843.8,843 L847.3,842.6 L851.3,842.3 L854.9,842.4 L859.6,843.4 L864.2,844.4 L867,842.8 L871.8,844 L874.2,840.8 L877.6,840.6 L880.4,840.6 L884.3,843.7 L888.9,841 L893.1,843.2 L895.6,844.2 L900.4,841.3 L905.1,842.1 L908.6,844.7 L913,841 L916.3,842.6 L919.4,841.2 L922.4,843.5 L924.5,842.7 L927.9,840.4 L930.9,843 L934.4,840.6 L939.3,843.8 L944.1,840.8 L946.9,840.5 L951.2,841.5 L953.7,842.2 L958.3,843.9 L961.2,841 L965.8,842.8 L969.9,840.7 L972.2,843.3 L975.5,840.6 L980.2,843.1 L984.5,840.7 L989,840.6 L993.5,842.3 L996.6,842.7 L997,841.5" fill="none" stroke="#dcdcdc" stroke-width="4" opacity="0.9" filter="url(#fSoft)"/>
<path d="M770,847 L770,846.2 L774.1,846.6 L776.8,846.3 L779.4,846.4 L782.8,846.8 L787.6,846.7 L791.6,846.3 L795.1,845.8 L798.3,845.8 L803.1,847.7 L806.1,847.4 L811.5,846.1 L816.5,847.3 L820.5,848.7 L824.1,847.5 L828.7,849.2 L832.2,848.7 L836.9,848 L840.6,847 L843.2,846.2 L845.8,848.4 L849,846.3 L851.7,848.7 L856.9,848.1 L860.2,846.6 L863.5,847.4 L866.4,847.3 L869.7,849.2 L875.2,847.7 L878.4,849.2 L881.7,847 L884.1,847.1 L888.1,847.5 L891.1,847.5 L893.5,846.7 L896.2,847.1 L898.7,845.8 L902.1,846.5 L906.4,847.6 L911.2,848.1 L915.9,848.9 L919.5,846.9 L925.1,846.2 L929.8,848 L932.3,848.7 L937.6,848 L942.3,848.6 L945.2,847.6 L949.2,848.7 L954.2,848.7 L958.4,848.9 L963,848.2 L966.2,845.8 L969,847 L971.7,848.7 L975.9,848 L980.3,848.2 L984.3,845.7 L989.2,848.4 L992,847.6" fill="none" stroke="#8a8a8a" stroke-width="2.2" opacity="0.55" filter="url(#fSoft)"/>
<ellipse cx="821" cy="852" rx="1.9" ry="1.4" fill="#cfcfcf" opacity="0.9"/>
<ellipse cx="824.5" cy="852" rx="1.9" ry="1.4" fill="#cfcfcf" opacity="0.9"/>
<ellipse cx="905" cy="852" rx="1.9" ry="1.4" fill="#cfcfcf" opacity="0.9"/>
<ellipse cx="908.5" cy="852" rx="1.9" ry="1.4" fill="#cfcfcf" opacity="0.9"/>
<ellipse cx="928" cy="852" rx="1.9" ry="1.4" fill="#cfcfcf" opacity="0.9"/>
<ellipse cx="945.5" cy="852" rx="1.9" ry="1.4" fill="#cfcfcf" opacity="0.9"/>
<ellipse cx="949" cy="852" rx="1.9" ry="1.4" fill="#cfcfcf" opacity="0.9"/>
<path d="M761,854 Q880,857 997,854 L997,866 Q880,871 761,866 Z" fill="#030303"/>
<path d="M782,866.5 Q887,871 992,866.5 L992,899 Q887,903 782,899 Z" fill="url(#gMetal)"/>
<path d="M782,866.5 Q887,871 992,866.5 L992,899 Q887,903 782,899 Z" fill="url(#gMetalV)"/>
<path d="M782,887 Q887,890.5 992,887" stroke="#000" stroke-width="1.2" fill="none" opacity="0.35"/>
<rect x="713" y="907" width="327" height="13.5" fill="#383838"/>
<rect x="713" y="906" width="327" height="4" fill="#4a4a4a" opacity="0.7" filter="url(#fSoft)"/>
<path d="M782,899 Q887,903 992,899 L992,907.5 L782,907.5 Z" fill="#0e0e0e"/>
<ellipse cx="722" cy="880" rx="4" ry="13" fill="#7a5a3a" opacity="0.5" filter="url(#fSoft3)"/>
<ellipse cx="1029" cy="893" rx="3.5" ry="10" fill="#8a8a8a" opacity="0.6" filter="url(#fSoft3)"/>
<rect x="846.4" y="490.2" width="2.8" height="429.8" fill="url(#gStreak)" filter="url(#fBlur1)"/>
<rect x="843.5" y="490.2" width="8.5" height="429.8" fill="#c8d0d8" opacity="0.16" filter="url(#fBlur3)"/>
<rect x="828.8" y="630" width="1.6" height="290" fill="#ffffff" opacity="0.22" filter="url(#fBlur1)"/>
<rect x="974.7" y="560" width="2.6" height="293" fill="#b8ad9c" opacity="0.85" filter="url(#fBlur1)"/>
<rect x="990.4" y="505.6" width="94.3" height="9.4" fill="#fff"/>
<text x="989" y="547.8" font-size="30" style="fill:#fff">10 mm</text>
</g>
</svg></body></html>
